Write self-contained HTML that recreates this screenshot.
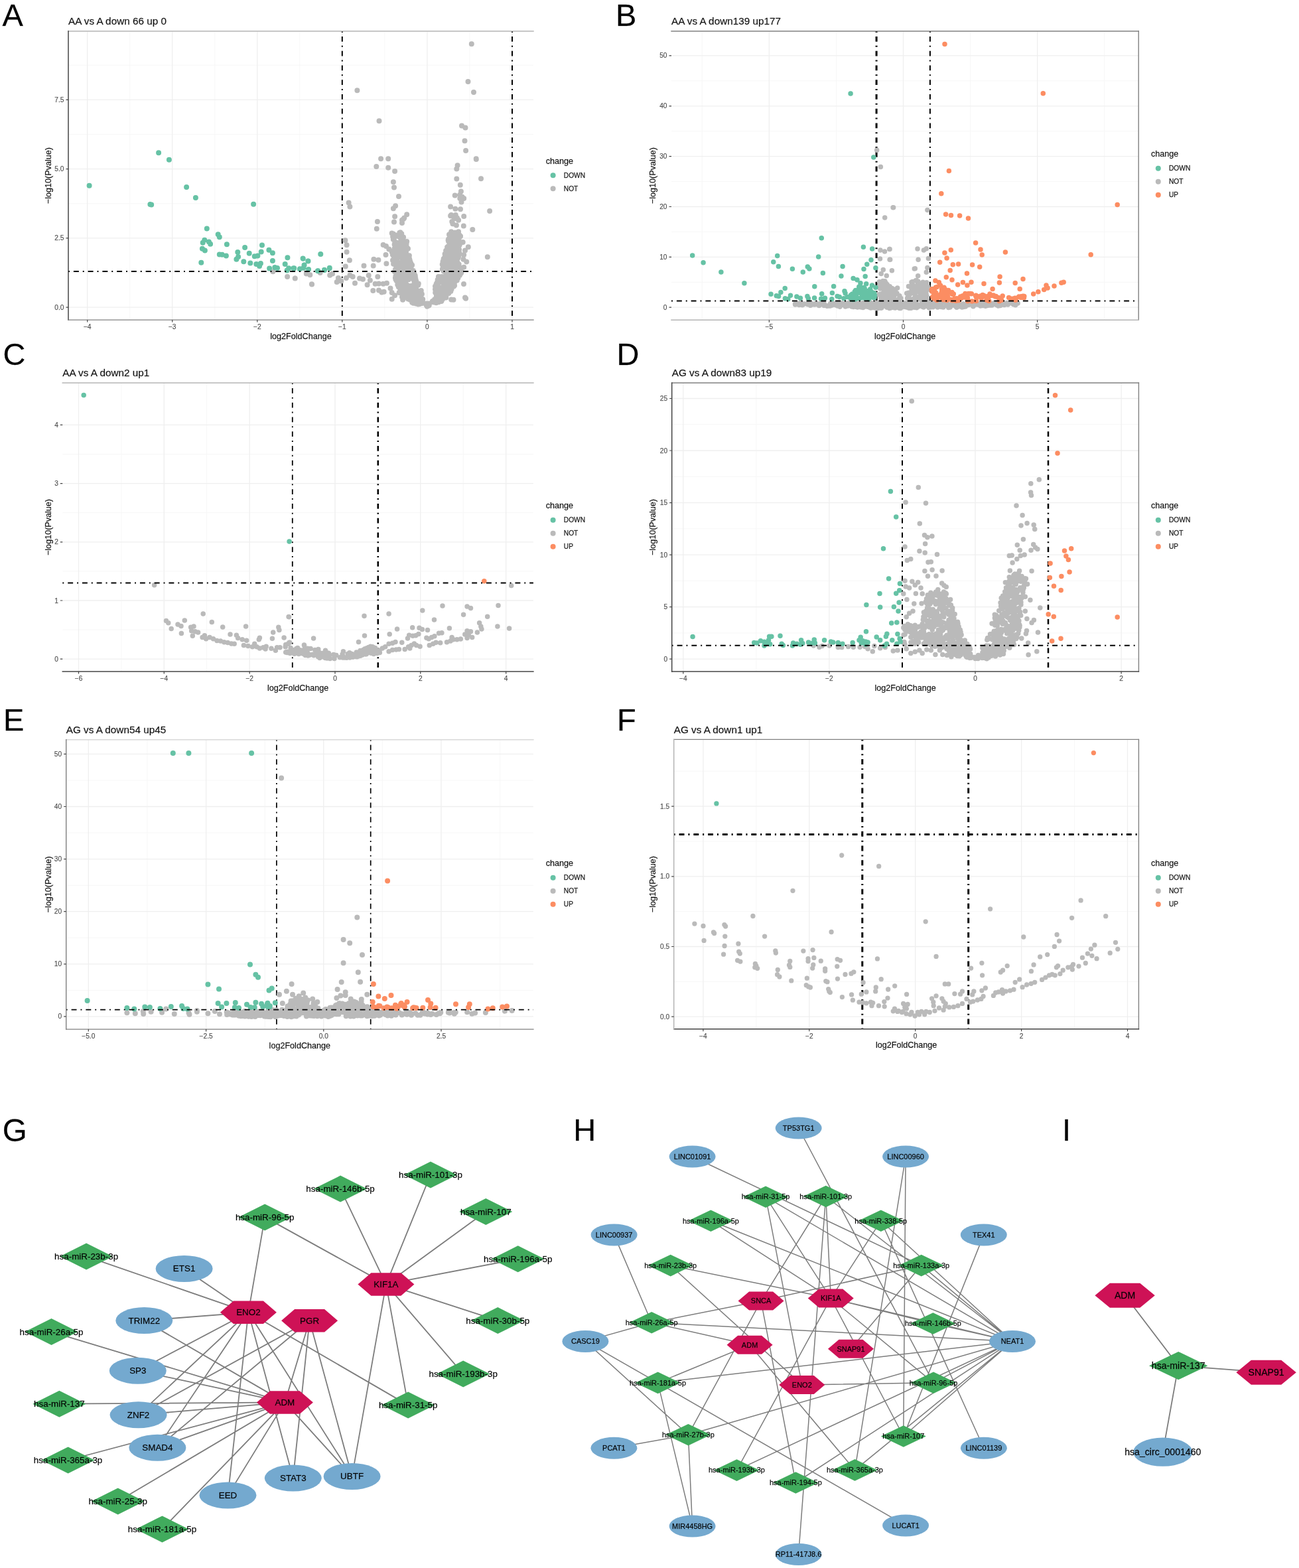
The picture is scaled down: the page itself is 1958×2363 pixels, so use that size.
<!DOCTYPE html>
<html lang="en"><head><meta charset="utf-8"><title>Figure</title>
<style>html,body{margin:0;padding:0;background:#fff}body{width:1958px;height:2363px;overflow:hidden}svg{display:block}</style></head>
<body>
<svg width="1958" height="2363" viewBox="0 0 1958 2363" font-family="'Liberation Sans', Arial, sans-serif">
<style>text{stroke:#000;stroke-width:.3px;stroke-opacity:.55;paint-order:stroke fill}.tk text{stroke:#4d4d4d;stroke-width:.25px}</style>
<rect width="1958" height="2363" fill="#fff"/>
<g>
<text x="3.5" y="38.5" font-size="47" fill="#000">A</text>
<text x="103" y="36.7" font-size="15.3" fill="#111">AA vs A down 66 up 0</text>
<rect x="103" y="47" width="701" height="435.1" fill="#fff"/>
<path d="M195.7 47V482.1M323.8 47V482.1M451.8 47V482.1M579.9 47V482.1M707.9 47V482.1M103 411.1H804M103 306.8H804M103 202.5H804M103 98.2H804" stroke="#f6f6f6" stroke-width="0.9" fill="none"/>
<path d="M131.7 47V482.1M259.7 47V482.1M387.8 47V482.1M515.8 47V482.1M643.9 47V482.1M772 47V482.1M103 463.2H804M103 358.9H804M103 254.6H804M103 150.4H804" stroke="#efefef" stroke-width="1.3" fill="none"/>
<path d="M515.8 47V482.1" stroke="#000" stroke-width="2" stroke-dasharray="1.98 5.93 7.91 5.93" fill="none"/>
<path d="M772 47V482.1" stroke="#000" stroke-width="2" stroke-dasharray="1.98 5.93 7.91 5.93" fill="none"/>
<path d="M411.4 409.3h0M433.1 417h0M444.7 419.4h0M470.1 428.4h0M710.8 66.3h0M705.5 123.1h0M714 139h0M538.4 136.3h0M571.5 182.3h0M696 189.5h0M701.5 192.4h0M700.5 212.2h0M702.1 227h0M717.7 239.2h0M574.1 239.2h0M585.2 239.2h0M567.3 250.9h0M585.2 252.7h0M595.1 257.9h0M592.9 274.3h0M594 282.6h0M601 296.1h0M596.1 310.3h0M592.9 314.3h0M613.2 323.2h0M595.1 326.3h0M594 334.6h0M608.2 330h0M606 336.1h0M568.9 333.9h0M567.8 344.8h0M525.6 305.5h0M527.4 311.4h0M520.4 362.3h0M522.6 369.3h0M522.6 379.8h0M526.9 392.2h0M520.8 401.6h0M548.5 400.5h0M563.4 390.7h0M570.4 391.8h0M562.7 400.5h0M581.5 384.1h0M582.4 397.2h0M689.6 249.2h0M688.3 254.6h0M688.3 269.5h0M693.8 278.7h0M694.9 288.5h0M685.7 294.6h0M693.3 293.5h0M699.2 299h0M695.5 304.4h0M679.1 311.6h0M686.3 314.7h0M694 315.3h0M680.2 324.1h0M686.8 324.1h0M699.2 326h0M689 328.4h0M682.4 337.2h0M687.9 339.4h0M698.8 340.5h0M712.3 346.1h0M725 269.3h0M738.1 318h0M734.8 387.2h0M697.7 365.1h0M705.8 372.3h0M701 377.6h0M699.2 384.1h0M698.4 390.7h0M703.2 394.6h0M699.2 402.7h0M699 428h0M683.5 451.8h0M702.1 449.7h0M701 448.6h0M680.2 451.4h0M717.8 240h0M444.8 419.5h0M469.9 428.3h0M461.8 412.5h0M467.3 414.3h0M482.6 411h0M497.2 414.7h0M501.1 412.5h0M509.9 419.1h0M507.7 425h0M514.3 423.4h0M521.9 419.1h0M527.4 414.7h0M531.7 416.9h0M535 426.7h0M542 419.5h0M547 420.8h0M555.7 415.1h0M557.9 422.4h0M553.6 429.3h0M569.3 416.9h0M565.6 427.8h0M571 427.4h0M577.6 427.8h0M583 426.7h0M562.3 438.1h0M571 437.6h0M575.4 440.5h0M578.7 439.8h0M588.5 434.4h0M590.7 440.9h0M595.1 445.3h0M590.7 450.7h0M601.6 440.9h0M606 447.5h0M607.1 451.8h0M577.6 368.9h0M582 371h0M586.3 375.4h0M590.7 379.8h0M592.9 352.5h0M590.7 351.4h0M680.2 349.2h0M691.1 349.2h0M677 353.6h0M684.6 329.5h0M681.3 333.9h0M691.1 331.7h0M679.1 325.2h0M693.3 299h0M696.6 296.8h0M606 331.7h0M609.3 328.4h0M615.9 399.4h0M624 436.8h0M613.3 429.4h0M601.5 396.4h0M612.9 404.5h0M602.3 375.3h0M601.6 400.5h0M605.3 352.2h0M596.5 386.5h0M627.6 428.3h0M606 414.7h0M635.9 443.2h0M616.4 414.8h0M599.2 410.4h0M626.6 424.2h0M609.6 398.3h0M616.6 435.7h0M617.2 393.2h0M610.6 368.6h0M620.2 400.5h0M604.2 410.3h0M630.8 440.3h0M619.3 396.8h0M616.4 403.3h0M608.7 388h0M618.1 418.6h0M599.4 414.3h0M634.8 437.9h0M631.5 439.9h0M595.9 418.8h0M608.1 357.5h0M598.5 408h0M599 379.9h0M606.9 402.1h0M612 370.6h0M621.6 440h0M601.8 421.4h0M610.7 413.4h0M606.9 419.4h0M593.3 382.8h0M603.3 350.8h0M632.7 456h0M635.2 457.2h0M609.8 388.1h0M600.9 424.2h0M612.7 371.3h0M605.6 405h0M600.6 386h0M607.8 373.3h0M625.2 442.2h0M602.4 429.9h0M594.6 368.6h0M607.9 382h0M597.3 410.6h0M595.7 354.2h0M631 441.2h0M607.9 417.7h0M594.5 379.3h0M604.6 436.6h0M596.2 368.3h0M602.7 431.9h0M603.4 402.5h0M621.1 399.5h0M606.5 356.8h0M637.5 456.8h0M601.4 418h0M625.9 422.8h0M603.7 409.6h0M606.2 377h0M594.5 380.8h0M624 420.8h0M606.1 385.9h0M607.6 409.9h0M620.2 415.6h0M602.9 352.1h0M602.9 357.8h0M605.3 437.2h0M615.8 445h0M598.2 405.2h0M630.4 458.5h0M595.8 406.6h0M631.9 449.9h0M612.6 367.3h0M627.3 423.5h0M603.3 357h0M618.7 409.6h0M610.7 387.2h0M603.6 352.5h0M608.6 365.1h0M596.7 378.4h0M611 417.4h0M602.3 350.7h0M617.6 405.1h0M625.8 430.5h0M602.6 404.5h0M615 374.7h0M611.6 411.7h0M637.2 451.1h0M604.5 421.1h0M592.7 357.7h0M616.7 446.6h0M626.1 443.5h0M609.5 427.2h0M634.6 448.7h0M599.4 377.5h0M601.5 412.7h0M625.5 428.9h0M608.3 406.7h0M630.4 442.7h0M624.4 427.1h0M598.8 385.7h0M596.4 382.4h0M603.1 432.5h0M622.7 416.6h0M605 409.7h0M604.4 414.5h0M603.2 425.2h0M631.2 439h0M615.7 444.2h0M610.1 381.2h0M629.6 457.2h0M597.3 405h0M616.3 389.2h0M613.1 399.4h0M606 393.9h0M615.7 421.3h0M609.8 372.3h0M621.2 447.1h0M606.1 368.6h0M622.3 408.4h0M610.4 396.8h0M611.2 444.8h0M620.5 430.8h0M615.8 432.1h0M623.4 421.4h0M622.8 419.7h0M608.3 379h0M626.9 446.2h0M616.7 432h0M612.1 389h0M625.9 416.6h0M601.1 372.8h0M617.3 390.5h0M616.7 431.1h0M599 421.9h0M627.2 439.7h0M604.2 417.1h0M602.3 411.7h0M626.8 442.9h0M612.6 433.8h0M608.9 432.7h0M602.7 429.1h0M595.8 393.6h0M599.9 356h0M621.2 447.9h0M601.5 353.7h0M626.7 439.7h0M608 442.3h0M595.2 393.9h0M615.9 391.5h0M599 375.4h0M621 450.2h0M631.5 444.4h0M606.8 392.1h0M620.3 451.2h0M611 446.9h0M597.8 423.2h0M593.2 391.7h0M597 400.9h0M633.7 449.8h0M592.1 356.6h0M604.4 362.8h0M623.2 432h0M625.8 443.1h0M622.9 456.8h0M621.6 411.6h0M608.5 395.4h0M612.2 422.9h0M627.2 431.8h0M627.6 432.8h0M634.5 443.8h0M593 359.9h0M613.2 364h0M610.7 427.9h0M592 392.2h0M632 444.2h0M606 396.7h0M603 411.3h0M607.3 387.2h0M630.8 455.3h0M618 448.8h0M598.4 390.7h0M608.1 413.3h0M605.7 388.7h0M607.1 432.4h0M616.2 407.9h0M607.1 386h0M615.1 450.5h0M638.3 456.8h0M632.5 451.9h0M597.2 407.6h0M630.8 427.4h0M611.1 401.1h0M598.9 366.2h0M611.5 430.1h0M592.8 360.8h0M595.8 378.7h0M623 407.9h0M594.3 357.9h0M621.2 445.3h0M627.8 439.6h0M600.7 432.2h0M615.5 394.4h0M600.1 382.9h0M596.5 383.2h0M619.9 410.7h0M617.5 409.6h0M632.6 455h0M611.4 419.3h0M606.2 383.1h0M616.5 414.5h0M598.7 420.1h0M636.8 451.9h0M614.3 437.6h0M609.5 432.5h0M615.2 387h0M608.6 395.6h0M616.8 431.4h0M595 364.1h0M610.9 429.6h0M618.7 408.8h0M618.9 396.1h0M604 380.6h0M615.1 437.3h0M610.4 423.6h0M605.5 405.9h0M600.7 407.3h0M611.8 447.8h0M615.7 448.6h0M638.2 456.7h0M604.1 409.5h0M613 433.7h0M604.5 427.7h0M611.6 364.2h0M600.4 411.7h0M621.2 455.7h0M617.8 417h0M598 395.5h0M604.7 426.5h0M604.1 373.5h0M609.3 401.7h0M607.8 416.7h0M593.3 385.8h0M626 421h0M632.3 448.2h0M606.6 404.3h0M607.3 364h0M597.5 378.1h0M594.8 409.3h0M600.6 412.4h0M606.1 417.7h0M594.6 374.6h0M607.9 416.1h0M607.3 365.2h0M603.2 434.8h0M595.6 384.8h0M604.2 355.3h0M616.9 385.3h0M625.4 418.3h0M617.6 412.1h0M618 393.3h0M601.4 397.8h0M604.3 408.3h0M614.7 394.3h0M595.6 391h0M624.1 409.9h0M618.4 442.9h0M627.7 425.4h0M591.8 383.8h0M633.8 443.4h0M610 398.3h0M596.4 416.1h0M604.2 423.4h0M609.9 411.8h0M611.4 416.7h0M596 365.2h0M616.6 389.1h0M631.8 440.3h0M602.7 411.9h0M608.8 367.3h0M630.5 450.9h0M608.2 422.4h0M593.1 397.8h0M609.7 382.3h0M626.4 419.9h0M625.1 448.2h0M599.2 420.7h0M615.5 387.5h0M627 457.4h0M610.1 441.8h0M599.3 428.9h0M595.4 386.9h0M614.6 404.2h0M630.3 429.6h0M600.3 398.4h0M618.3 412.9h0M598 391.3h0M633 454.3h0M623.1 431h0M631.9 458.2h0M608 376.2h0M630.4 453h0M620.5 406.4h0M612.4 437.5h0M626.5 426h0M603.1 435.8h0M596.4 420.9h0M610.3 411.6h0M606.4 380.5h0M611.8 415.5h0M606.7 408.8h0M613.5 405.2h0M611.9 368.3h0M610.7 392.8h0M608.9 366.6h0M619.6 443h0M597.6 378h0M608.3 380.6h0M597 377.7h0M612.5 446h0M620.1 410.9h0M610.5 371.4h0M625.6 415h0M596.9 409.2h0M594.1 376.5h0M610 381.4h0M608.7 442.3h0M601.9 428.1h0M608.3 408.9h0M601.1 401h0M605.3 439.2h0M620.9 417.7h0M606.6 439.4h0M601 405.8h0M626.9 440.2h0M603.4 350.3h0M596.5 372.1h0M615.2 417.5h0M604.1 420.3h0M625 451.5h0M616.3 444.2h0M612.1 379.8h0M597 411.6h0M618.1 451.8h0M612.1 398.6h0M600.1 406.1h0M614 441.8h0M599.4 366.1h0M631.5 442.7h0M612.3 414.8h0M680.4 380.8h0M677.2 415.1h0M676 363.6h0M668.6 390.6h0M694.1 407.9h0M666.1 447.7h0M673.3 409.7h0M680.6 366.3h0M684.5 427.5h0M670.1 406.3h0M672.1 440.8h0M664.9 446.7h0M691.7 398.3h0M683 401.3h0M681.8 364.5h0M692.1 376.2h0M692.3 381h0M672.2 404.8h0M679.5 412.9h0M678.1 354.1h0M692.1 367.4h0M684.1 352.2h0M679.6 376.8h0M658.6 445.9h0M689.4 373.6h0M657.8 446.4h0M668.3 427.7h0M651.5 454.9h0M687.4 363.5h0M677.7 430.6h0M685.1 430.3h0M679.9 381.7h0M690.5 360.1h0M676.2 390.5h0M677.3 393.6h0M678.1 437.2h0M682.3 374.9h0M668.3 405.8h0M683 373.1h0M673.1 398.7h0M662.7 419.1h0M657.9 449.4h0M668.8 404.1h0M668 405.7h0M686.9 387.5h0M677.5 378.7h0M688.8 422.6h0M667.7 401.2h0M665.8 452.7h0M666.7 398.6h0M684.5 390.8h0M679.9 434.6h0M683 402.6h0M686.7 376.3h0M673.3 400.2h0M668.5 423.3h0M692.6 412.7h0M687.7 356.5h0M679.3 360.2h0M680.4 423.6h0M669 405.6h0M682.6 375h0M691.4 398.3h0M682 391.8h0M675.6 362.1h0M671.2 391.9h0M682.1 399.7h0M684.1 421h0M667.3 422h0M679.4 439h0M683.3 415h0M685.2 368.4h0M684 412.7h0M656.9 437.7h0M675.3 399h0M657.5 456.3h0M671.3 441.5h0M679.8 432h0M671.3 422.9h0M656 431.5h0M686 391.9h0M680.6 435.8h0M689.9 360.9h0M673.9 389.3h0M669.2 445.3h0M662.6 419.9h0M671.2 407.2h0M692.4 354.3h0M688 380.4h0M679.2 436.7h0M679.6 390.5h0M688.8 356.1h0M678.6 390.3h0M673.5 443h0M686.7 417.6h0M661.1 455.3h0M669.2 418.8h0M686.5 372.2h0M687.2 418h0M667.1 439.9h0M664.3 446.2h0M693 403.1h0M684 431.6h0M661.8 416.9h0M680.4 387.6h0M670.9 447.9h0M656.6 455.6h0M684.9 395.5h0M674.1 372.6h0M688.4 390.2h0M661.5 418.6h0M693 356.4h0M677.5 384.1h0M665.8 433.5h0M689.3 394.8h0M685.7 360.7h0M673.2 442.4h0M664.1 433.6h0M677.5 390.7h0M670.8 416.5h0M663 441.5h0M676.8 412.9h0M669.8 392.7h0M653.8 453h0M680.4 356h0M657.3 450.8h0M687.9 405.4h0M666.1 416.9h0M682.7 403.6h0M692.5 364.2h0M678.3 369.6h0M668.6 394.5h0M667 436.9h0M687.3 410h0M658.7 426.1h0M681.8 421h0M676 419.4h0M678.2 430.6h0M682 400h0M678.7 407.9h0M656.6 455.1h0M657.7 440h0M681.9 377.3h0M691.8 410.7h0M682.9 397.7h0M679.9 359.5h0M682 376.7h0M692.2 370.1h0M666.8 405.7h0M692.9 368.5h0M685.4 425h0M686.1 396.8h0M675.6 381h0M689.7 371h0M677.7 421h0M688.6 379.8h0M683.1 384.8h0M669.1 393.6h0M676 360.6h0M679.2 402.3h0M690.4 413.3h0M682 405.6h0M670.8 389h0M673.6 439.2h0M651.9 453.9h0M680.6 351.7h0M682.2 391.5h0M672.5 405.1h0M685.9 412.1h0M682.1 429.7h0M673.9 416.1h0M662.7 421.2h0M692.8 415h0M665.3 454.1h0M678.7 437.8h0M691.5 403.9h0M664.2 441.5h0M689.8 354.3h0M674 415.4h0M668.9 393.6h0M686.3 364.1h0M680.5 379.3h0M659.6 435.8h0M692.1 358.2h0M672.1 377.7h0M679.5 351.5h0M672.9 406h0M667.3 450.4h0M670.1 388.2h0M695.3 411h0M672.8 395.9h0M686.7 419.7h0M675.5 374.2h0M669.2 398.7h0M658.3 431.6h0M662.3 441.8h0M695.3 408.3h0M675.4 424.2h0M659.6 427.1h0M665.4 442.6h0M670.2 421.5h0M674.8 406.8h0M684.6 393.6h0M672.3 448.4h0M684.2 420.4h0M676.9 417.1h0M677.8 433.3h0M681.7 387.1h0M686.7 385.5h0M679.4 392.3h0M687.2 392.1h0M692.3 410.9h0M667.4 419.6h0M680.4 422h0M677.2 429.5h0M656.2 441h0M676.9 391.6h0M682.6 351.4h0M690.5 418.7h0M675.7 371h0M677.6 364.5h0M662.4 440.7h0M675.4 428.7h0M672.2 411.2h0M659.3 442.4h0M659.4 438.5h0M682.9 371.3h0M676.3 372.8h0M689.9 412.8h0M667.4 399.7h0M677.7 436.2h0M666.9 441.4h0M687.2 405.9h0M686.7 378.3h0M686 363.1h0M678.7 437.7h0M655.1 451.2h0M677.6 385.8h0M678.9 428h0M664.8 442.5h0M693.2 411h0M685.7 371.8h0M667.7 420.8h0M688.4 383.8h0M685.1 371.1h0M691.9 355.4h0M678 426.9h0M673.9 381.4h0M669.8 392h0M675.1 431.1h0M654.3 455.5h0M668.2 424.5h0M688.5 367.3h0M687.4 380.9h0M667.9 400.9h0M687 379.3h0M675.8 405.9h0M675.7 382.4h0M688.7 403h0M670.6 418.7h0M672.4 447.8h0M687.5 361.7h0M672.8 430h0M680.9 370.7h0M686.1 350.4h0M674.3 380.2h0M693.4 411.3h0M688 403h0M677.9 391.4h0M685.9 367.8h0M666.3 423.6h0M662 420.8h0M656 436h0M668.1 440.9h0M684.7 400.1h0M677.6 413.1h0M657.6 428.1h0M680.4 420.9h0M682.7 407.8h0M680.9 365.7h0M694.4 412.3h0M679.2 377.8h0M686.2 374.1h0M687.7 410.3h0M679.6 379h0M670.8 420.9h0M677.4 386.1h0M679.2 356.9h0M673.8 419.6h0M677.3 400.5h0M665.9 420.2h0M670.6 382.8h0M661.9 436h0M657.6 441.7h0M676.6 417.3h0M684 365.3h0M688.2 354.7h0M682.6 405h0M673.9 376.2h0M685.3 380.1h0M683.6 355.4h0M670.4 419.4h0M676.3 441.9h0M691.4 377.5h0M668.2 442.3h0M660.9 416.9h0M690.4 388.7h0M676.3 371.2h0M689.6 396.2h0M671.4 420.7h0M663.2 438.7h0M670 394.7h0M683.1 421.9h0M687.2 392.2h0M673.4 391.7h0M661.1 425.7h0M683.4 423h0M660 433.1h0M668.8 408.8h0M689.3 357.3h0M673.2 401.8h0M673.4 420h0M673.5 439.5h0M688.3 365.1h0M663.9 435.3h0M677.5 415.2h0M678.3 391h0M678.4 353.2h0M685.4 401.2h0M677.2 426.3h0M676.7 393.2h0M687.3 384.7h0M682.9 423.4h0M670.3 435.5h0M667.5 394.4h0M661.3 432.4h0M679.2 370.3h0M694.1 356.1h0M691.4 386.1h0M662.2 453.2h0M687.9 374.9h0M671.6 408.6h0M685.5 375.7h0M675.3 405h0M676.4 409.2h0M668.7 389.9h0M666.8 433.3h0M681 354.7h0M667.8 397.3h0M689 376.1h0M673.6 417.8h0M691.1 368.6h0M688.4 375.5h0M685.7 391h0M659.6 421.7h0M687.2 376.3h0M660.5 444.8h0M656.5 435.5h0M675.5 432.3h0M668.2 392.8h0M642.9 460.3h0M643.8 460.6h0M645.5 457.7h0M643.1 458.6h0M646.8 459.9h0M645.5 458.1h0M644.8 461.3h0M645.8 457.6h0M646.3 460.5h0M643.3 457.5h0M643.9 461.7h0M647.1 457.8h0" stroke="#bababa" stroke-width="8.0" stroke-linecap="round" fill="none"/>
<path d="M239.1 230.2h0M254.9 240.7h0M134.6 279.8h0M281.1 281.9h0M294.9 298h0M228.2 308.6h0M226.4 308.1h0M382.1 307.8h0M311.8 344.6h0M328.7 353.3h0M330.8 357.2h0M308.3 361.7h0M305.7 365.7h0M314.9 364.4h0M317.1 367.8h0M341.9 368.3h0M395 369.4h0M304.9 374.7h0M308.9 377.6h0M369.1 373.1h0M405.4 376.8h0M410.9 381.3h0M358.3 380h0M375.7 381.8h0M393.7 379.4h0M383.7 386.3h0M388.4 385.5h0M330.8 383.4h0M334.8 383.7h0M340.9 385.5h0M359.1 387.1h0M356.4 390.8h0M433.4 388.2h0M456.6 389.5h0M483.3 383.1h0M464.3 393.5h0M410.9 392.9h0M367.3 394.3h0M377.3 396.4h0M386.3 398h0M392.9 396.9h0M391.1 400.9h0M303.3 395.8h0M429.7 398h0M458.5 399.5h0M406.1 404.6h0M414.3 403h0M418 404h0M435.2 404.3h0M432.6 407.5h0M442.4 404.3h0M451.9 405.6h0M465.1 406.1h0M479.4 408.3h0M488.9 406.7h0M496.8 404.3h0M483.2 383h0M456.8 389.8h0M464.5 393.5h0M458.6 399.4h0M443.3 404.2h0M452 405.3h0M457.5 403.8h0M465.1 406h0M478.9 408.2h0M489.1 407.1h0M496.8 403.8h0" stroke="#66c2a5" stroke-width="8.0" stroke-linecap="round" fill="none"/>
<path d="M103 409H804" stroke="#000" stroke-width="2" stroke-dasharray="1.98 5.93 7.91 5.93" fill="none"/>
<path d="M103 47H804" stroke="#b4b4b4" stroke-width="1.5" stroke-linecap="square" fill="none"/>
<path d="M103 47V482.1" stroke="#444" stroke-width="1.5" stroke-linecap="square" fill="none"/>
<path d="M103 482.1H804" stroke="#808080" stroke-width="1.4" stroke-linecap="square" fill="none"/>
<path d="M131.7 482.1v3.5M259.7 482.1v3.5M387.8 482.1v3.5M515.8 482.1v3.5M643.9 482.1v3.5M772 482.1v3.5M103 463.2h-3.5M103 358.9h-3.5M103 254.6h-3.5M103 150.4h-3.5" stroke="#444" stroke-width="1.2" fill="none"/>
<g class="tk" font-size="10.2" fill="#4d4d4d">
<text x="131.7" y="496.3" text-anchor="middle">−4</text>
<text x="259.7" y="496.3" text-anchor="middle">−3</text>
<text x="387.8" y="496.3" text-anchor="middle">−2</text>
<text x="515.8" y="496.3" text-anchor="middle">−1</text>
<text x="643.9" y="496.3" text-anchor="middle">0</text>
<text x="772" y="496.3" text-anchor="middle">1</text>
<text x="96.5" y="466.7" text-anchor="end">0.0</text>
<text x="96.5" y="362.4" text-anchor="end">2.5</text>
<text x="96.5" y="258.1" text-anchor="end">5.0</text>
<text x="96.5" y="153.9" text-anchor="end">7.5</text>
</g>
<text x="453.5" y="510.70000000000005" font-size="12.6" text-anchor="middle" fill="#111">log2FoldChange</text>
<text transform="translate(77 264.6) rotate(-90)" font-size="12.6" text-anchor="middle" fill="#111">−log10(Pvalue)</text>
<text x="822.8" y="246.6" font-size="12.6" fill="#111">change</text>
<circle cx="833.5999999999999" cy="264.3" r="4" fill="#66c2a5"/>
<text x="849.8" y="267.7" font-size="10.2" fill="#111">DOWN</text>
<circle cx="833.5999999999999" cy="284.3" r="4" fill="#bababa"/>
<text x="849.8" y="287.7" font-size="10.2" fill="#111">NOT</text>
</g>
<g>
<text x="928" y="38.5" font-size="47" fill="#000">B</text>
<text x="1012" y="36.7" font-size="15.3" fill="#111">AA vs A down139 up177</text>
<rect x="1012" y="47" width="704.2" height="435.2" fill="#fff"/>
<path d="M1058.3 47V482.2M1260.5 47V482.2M1462.5 47V482.2M1664.7 47V482.2M1012 425.3H1716.2M1012 349.4H1716.2M1012 273.5H1716.2M1012 197.7H1716.2M1012 121.8H1716.2" stroke="#f6f6f6" stroke-width="0.9" fill="none"/>
<path d="M1159.4 47V482.2M1361.5 47V482.2M1563.6 47V482.2M1012 463.2H1716.2M1012 387.3H1716.2M1012 311.5H1716.2M1012 235.6H1716.2M1012 159.8H1716.2M1012 83.9H1716.2" stroke="#efefef" stroke-width="1.3" fill="none"/>
<path d="M1321.1 47V482.2" stroke="#000" stroke-width="3" stroke-dasharray="1.98 5.93 7.91 5.93" fill="none"/>
<path d="M1401.9 47V482.2" stroke="#000" stroke-width="2" stroke-dasharray="1.98 5.93 7.91 5.93" fill="none"/>
<path d="M1321.7 226.3h0M1327.4 251.6h0M1346.1 312.7h0M1333.7 328h0M1326.9 376.9h0M1333.5 379.1h0M1340.7 375.4h0M1326.5 390h0M1341.1 391.3h0M1331.3 406.4h0M1344.4 407.7h0M1378.3 404.9h0M1328.2 412.5h0M1336.3 415.4h0M1352.7 433.9h0M1346.6 312.7h0M1397.9 316.4h0M1341.1 375.4h0M1383 375h0M1392.4 376.9h0M1396.3 374.7h0M1341.7 391.3h0M1384.1 391.3h0M1399.4 389.6h0M1344.4 407.7h0M1379.3 404.7h0M1397.9 403.4h0M1396.3 410.3h0M1383.7 415.8h0M1322.4 463.3h0M1231.5 458.1h0M1224.5 458.1h0M1331.5 457.3h0M1294.5 458h0M1251.4 459.8h0M1350.4 461.3h0M1200.3 458.5h0M1345.3 462.9h0M1348.3 462.4h0M1370.8 462.8h0M1286.4 462.5h0M1300.5 459.8h0M1264.1 459.8h0M1254.9 457.2h0M1347.1 462.8h0M1377.4 461.9h0M1298.7 462.4h0M1278.5 457.7h0M1234.6 460.5h0M1243.8 460h0M1308.1 459.5h0M1221.5 460.3h0M1240.6 458.2h0M1233.1 459.2h0M1371.6 459.4h0M1328.7 463.9h0M1205.5 457.4h0M1344.6 463.2h0M1314.2 457.5h0M1359.2 462.9h0M1266 462.2h0M1307.7 462.2h0M1303.6 461.1h0M1259.9 458.7h0M1218.1 458.1h0M1299.1 460.7h0M1260.2 457h0M1219.8 458.7h0M1246.7 461.2h0M1198.7 459h0M1291.9 460.1h0M1319.7 458.7h0M1363.7 462.3h0M1352.5 458.4h0M1304.9 459.2h0M1242.2 458.6h0M1234.8 459.1h0M1204.6 459.5h0M1307 456.2h0M1338.8 457.8h0M1285.3 460.8h0M1258.3 458.6h0M1277 457.3h0M1355.1 457.1h0M1347.8 458h0M1253 459.4h0M1203.7 457.3h0M1263.5 459.9h0M1357.5 464.4h0M1297.1 457.2h0M1198.5 458.3h0M1355.9 457.4h0M1285 459.3h0M1319.2 464h0M1278 461h0M1310.8 463.2h0M1361.3 457.2h0M1345.8 460.6h0M1252 456.9h0M1207.1 456.5h0M1330.2 457.1h0M1328.2 463.4h0M1379.9 462.9h0M1275 461.4h0M1349.6 462.1h0M1217.6 458.8h0M1379.3 460.1h0M1279.7 456.2h0M1203 458.4h0M1353.3 459.7h0M1378.8 462.5h0M1285.9 458.4h0M1295.5 457.8h0M1266.1 460.2h0M1230.2 457.1h0M1305 458.8h0M1359.1 460.3h0M1292.7 463.1h0M1316 459.8h0M1372.6 456.4h0M1354.9 457.4h0M1350.8 457.5h0M1366.5 458.3h0M1286.4 461.3h0M1242.1 460.6h0M1336.2 459h0M1237.8 456.6h0M1325.4 459.8h0M1364.3 462.4h0M1367.6 463h0M1349.2 461.9h0M1329.1 461.7h0M1305.4 458.3h0M1306.4 456.7h0M1314.7 461.3h0M1290.9 462.6h0M1357.4 459.4h0M1346.2 460.4h0M1301.9 459.6h0M1367.8 459.9h0M1371.3 459h0M1320.2 463.8h0M1322.3 459.3h0M1340.7 464.4h0M1279.3 459.6h0M1300.5 462.4h0M1212.2 458h0M1224.2 458.9h0M1251.4 457.9h0M1375.3 456.9h0M1218.2 457.3h0M1209.8 459.4h0M1236.4 457.5h0M1206.6 458.1h0M1300.8 463.5h0M1317.9 462.1h0M1325.4 462.8h0M1353.2 457.5h0M1292.3 460.5h0M1340.2 457.7h0M1326.4 459.7h0M1274.5 458.2h0M1249 461h0M1373.7 458.3h0M1345 458h0M1253.3 457.1h0M1278.2 457.1h0M1326.1 461h0M1274.3 462.1h0M1240.2 459h0M1263.9 456.2h0M1359.4 456.9h0M1346.9 459.9h0M1274.5 457.4h0M1242.1 457.5h0M1362.8 456.4h0M1333.8 457.1h0M1333 460.9h0M1312.5 464h0M1343.3 461.2h0M1338 460.3h0M1298.2 463h0M1310.6 459.3h0M1259.7 459.8h0M1250.1 460.8h0M1306 460.8h0M1340.4 459.9h0M1295.5 462.4h0M1329.4 462.4h0M1360.1 460.8h0M1298.9 457.8h0M1241.6 459.8h0M1205.4 459.1h0M1332.6 460h0M1352.4 457.5h0M1338.3 459.8h0M1301.1 456.7h0M1331.7 460.9h0M1274.8 456.5h0M1325.1 459.9h0M1329.7 461.3h0M1304.7 459.9h0M1368.3 460.5h0M1290.4 456.7h0M1343.1 461.5h0M1241.3 457.2h0M1356.4 460.1h0M1329 456.4h0M1300.7 458.7h0M1324.4 464.2h0M1319.1 460.3h0M1307.7 458.3h0M1282.9 457.2h0M1329.1 456.8h0M1293.7 457.7h0M1300.3 456.7h0M1328.8 463.6h0M1313.7 457.7h0M1223.1 458.2h0M1293.1 462.7h0M1327.3 461h0M1291.1 457.6h0M1310.4 458.2h0M1254 460h0M1334.6 457.1h0M1278.3 458.2h0M1320 463h0M1282.3 458h0M1247.9 460.7h0M1344.8 461.2h0M1303.4 459.7h0M1241.6 459.9h0M1323.8 458.5h0M1278.3 456.8h0M1360.1 457.1h0M1264.2 461.3h0M1318.8 463.7h0M1358 460.1h0M1328 460.1h0M1328.3 464.2h0M1337 463.3h0M1357 461.1h0M1371 457.5h0M1302.3 456.8h0M1304 461.9h0M1273.8 457.8h0M1267.7 456.6h0M1283.8 461.9h0M1275.4 456.8h0M1309.3 458h0M1320.8 456.3h0M1370.2 456.4h0M1227.9 458.9h0M1343 462.4h0M1333.2 459.8h0M1363.9 457.3h0M1372.9 456.6h0M1338 461.8h0M1291.6 457.9h0M1207.8 458h0M1349.1 463.2h0M1312.7 456.3h0M1332.2 457.8h0M1370.4 464.3h0M1241.7 457.1h0M1357.2 459.9h0M1251.4 460.9h0M1209.4 459.7h0M1316.1 463.4h0M1216.9 457.9h0M1258.5 457.6h0M1270.4 457.8h0M1291.5 457.2h0M1321.9 464.2h0M1282.8 459.7h0M1270.3 459.2h0M1273.1 457.7h0M1285.1 456.8h0M1310.2 461.4h0M1262.5 461h0M1273.3 460.5h0M1369.9 457.1h0M1366.7 463h0M1354.6 457.1h0M1328.7 457.2h0M1352.3 459.5h0M1286.8 460.5h0M1354.9 459.9h0M1277.7 459.2h0M1328.2 444h0M1347.8 452h0M1334.1 428.8h0M1350.8 442.5h0M1335.2 443.3h0M1338.6 446.5h0M1328.6 427.7h0M1333.7 447.4h0M1344.2 442.6h0M1330.3 442.2h0M1328.7 431.6h0M1327.3 427.1h0M1346.2 449.7h0M1345.5 441.6h0M1330.8 423.4h0M1331.3 435.5h0M1332.2 447.2h0M1341.6 443.4h0M1343.6 435.6h0M1341.8 435h0M1355.5 452h0M1326.7 425h0M1349.7 439.5h0M1325 444h0M1336.8 439.4h0M1335.2 426.6h0M1347 436.1h0M1333.5 433.3h0M1325.6 430.7h0M1334.5 451.9h0M1337.2 428.7h0M1325.6 425.1h0M1331.5 428h0M1333.3 440.6h0M1344.5 440.3h0M1342.6 448.7h0M1337.5 433.2h0M1333.2 451.8h0M1341.2 431.7h0M1333.8 423.7h0M1331.5 443.6h0M1329.4 428.9h0M1340.4 438.6h0M1338 446.7h0M1333.6 432.6h0M1332.3 425.1h0M1347.6 442.4h0M1337 451.8h0M1348 439h0M1326 433.9h0M1333.9 436.1h0M1357.9 449.4h0M1326.5 443.2h0M1327.8 449.5h0M1339.7 453.4h0M1355.8 448.2h0M1329.2 433h0M1340.5 446.7h0M1342.2 438.1h0M1335 453.1h0M1333.3 443.2h0M1356.8 449.1h0M1338.6 435.2h0M1336.8 451.9h0M1325.4 424.8h0M1349.8 452.9h0M1343.2 448.4h0M1340.3 450.7h0M1326.8 435h0M1345.1 447.1h0M1391.1 425.3h0M1396 442.5h0M1395.2 452.9h0M1374.3 431.2h0M1390.2 429.4h0M1375.1 427.7h0M1395.2 448.8h0M1393.2 427.5h0M1397.5 436.9h0M1374 435.1h0M1380.4 422.8h0M1385.3 432h0M1385.5 450.6h0M1388.1 433.4h0M1395.4 452.8h0M1382.8 451.1h0M1372 450.9h0M1389.6 443.7h0M1375.9 436.4h0M1382.1 447.7h0M1385 433.3h0M1383.2 426h0M1398.3 431.8h0M1374.2 430.4h0M1394.1 430.6h0M1396.8 431.2h0M1381.2 422.6h0M1396.9 446.3h0M1382.3 424h0M1382.9 432.5h0M1394.6 450.6h0M1391.3 429.6h0M1367.6 449.5h0M1383.1 435.9h0M1368.3 447.8h0M1385.5 435.3h0M1392.5 439.6h0M1389.6 428.5h0M1377.5 441.4h0M1379.1 431.6h0M1387.1 443.3h0M1386.4 430.4h0M1394 446.4h0M1396.5 449.4h0M1366.7 442.1h0M1378 432.9h0M1383.7 424.9h0M1374.7 452.5h0M1377.4 450.1h0M1389.4 430.5h0M1377 440h0M1390 431.3h0M1395.3 444h0M1369.9 447.5h0M1385.7 431.1h0M1369.5 431.4h0M1391.2 438.1h0M1382.6 449.9h0M1379.5 446h0M1371.5 441.7h0M1394.6 441.7h0M1385.8 438.2h0M1391.6 432.3h0M1374.1 438.4h0M1383.8 424h0M1384.2 435.5h0M1371.5 443.4h0M1392.6 431.3h0M1395.5 452.5h0M1388.6 433.5h0M1375.4 424.4h0M1375.4 452.9h0M1368.3 450.2h0M1389.8 445.9h0M1369.6 441.3h0M1373.2 442.3h0M1393.1 443.8h0M1384.3 449.2h0M1374 425.3h0M1380.4 433.9h0M1395.9 432.4h0M1385.5 436.6h0M1382.4 435.7h0M1382.1 439.7h0M1380.8 434h0M1397.5 452.2h0M1374.6 451.2h0M1396.6 425.7h0M1388.9 452.7h0M1386.9 435.2h0M1347.1 441.6h0M1348.2 440.8h0M1348 445.5h0M1345.1 445h0M1340.2 437.7h0M1355.5 452h0M1345 450.6h0M1355.9 445.7h0M1340.5 441.1h0M1344.4 437.9h0M1345.1 448.3h0M1346.8 440.3h0M1352.6 451.8h0M1344.6 434.5h0M1346 441.2h0M1341.3 446.4h0M1352 442h0M1340.4 434.2h0M1344.6 440h0M1347.3 442.9h0M1442 463.3h0M1527.7 458.7h0M1469.3 457.2h0M1345.3 459.6h0M1485.9 458.4h0M1438 459h0M1352.2 463.3h0M1511.1 457.5h0M1477.9 461.1h0M1526.7 458h0M1464.9 458.9h0M1356 464.4h0M1367.7 463.3h0M1343.5 459.5h0M1350.1 462.8h0M1413.3 463h0M1509.6 458.3h0M1443 459.3h0M1392.2 463.1h0M1377.7 461.5h0M1448.6 461h0M1365.3 462h0M1519.1 459h0M1453 458.6h0M1341.9 462.8h0M1408 460.3h0M1393.3 461.7h0M1482.5 458.9h0M1517.9 456.4h0M1450.3 462.2h0M1418.8 462.6h0M1416.5 457.9h0M1389.1 457.5h0M1361.6 458.1h0M1504.6 460.9h0M1498.5 456.6h0M1521 457h0M1468.5 459.7h0M1354.7 457h0M1464.4 458.3h0M1444 458.5h0M1371.9 458.8h0M1481.7 460.5h0M1416.8 460.5h0M1448.3 460.7h0M1486.9 458.2h0M1402.2 457.9h0M1411.2 456.5h0M1485.5 461.2h0M1404.3 461.3h0M1459.8 459.4h0M1399.3 459.3h0M1455.6 460.7h0M1442.3 457.9h0M1452.5 462.4h0M1489.5 460.1h0M1427.1 460.6h0M1444.8 460.4h0M1342.4 458.5h0M1431.4 462.8h0M1381.3 458.5h0M1441.2 462.3h0M1345.4 460.3h0M1534.1 457.1h0M1345.1 460.9h0M1488.4 458.1h0M1495.2 459.9h0M1351.4 460.9h0M1376.8 460.9h0M1392.7 459.2h0M1530.6 459.7h0M1341.5 462.8h0M1406.3 462.8h0M1502.3 456.5h0M1482.8 458.7h0M1402.9 459.1h0M1445.2 458.3h0M1436.6 458.7h0M1364.4 458.4h0M1473.1 458.9h0M1379.2 459.4h0M1493.9 457.5h0M1397.4 460h0M1443.2 459.6h0M1442.3 462.8h0M1370.1 461.1h0M1372.1 460.9h0M1402 463.2h0M1419.6 461.6h0M1373 462.4h0M1492.1 459.9h0M1402.9 462.8h0M1396.4 458.3h0M1389 457.9h0M1341.4 457.3h0M1436.3 460h0M1513.9 459.5h0M1373.3 464.3h0M1354.2 459.2h0M1489.3 459h0M1400.3 463.7h0M1368.1 457.1h0M1495.1 458.3h0M1381.7 463.8h0M1504 460h0M1392.8 456.9h0M1379.8 459h0M1346.9 461.2h0M1351.7 462.1h0M1436.2 459.9h0M1390.7 458.9h0M1487 458.1h0M1380.7 459.4h0M1385 461.7h0M1414.2 460.2h0M1378.6 462.5h0M1434.6 460.1h0M1466.3 457.4h0M1384.5 459.7h0M1475.4 458.3h0M1507.7 460.5h0M1432.5 459.8h0M1527.5 457.8h0M1345.9 460.3h0M1378.9 458.4h0M1347 457.3h0M1426.2 457h0M1397.9 461.6h0M1390.8 458.9h0M1414 458.5h0M1450.1 463h0M1346.1 460.9h0M1477.6 458.6h0M1361 459.5h0M1433.6 459.1h0M1488.3 460.5h0M1531.3 456.3h0M1497.9 457.2h0M1441.4 457.5h0M1414.7 461.5h0M1527.4 456.6h0M1416.6 457.2h0M1485.2 457.5h0M1378.5 463.3h0M1349.2 463.9h0M1360.8 457h0M1433 458.9h0M1465.9 458.9h0M1404.6 456.4h0M1357.3 456.2h0M1444.9 459h0M1429.8 462.9h0M1510.2 457h0M1466.4 458.8h0M1455.3 462h0M1488.9 456.8h0M1403 456.5h0M1370.1 464.3h0M1451.8 458h0M1397.7 459.9h0M1356.7 463.3h0M1414.5 456.7h0M1440.6 459.8h0M1489.1 458.5h0M1386.6 460.6h0M1419.1 457.3h0M1432 463.1h0M1381.2 457.1h0M1380.1 460.8h0M1380.7 460h0M1378.9 457.3h0M1341.1 456.7h0M1391.1 462.4h0M1502.1 459.6h0M1349 461.1h0M1525.4 456.3h0M1403.3 461.4h0M1373.8 463.1h0M1454.5 462h0M1361.6 456.4h0M1366.9 460.6h0M1341.4 456.3h0M1414.8 461.9h0M1418 458.7h0M1379.6 462.4h0M1403.9 460.4h0M1391.1 462.6h0M1427.4 457h0M1360.6 460.6h0M1400.9 458.5h0M1481.4 458.5h0M1428.1 460.6h0M1341.6 463.2h0M1392.3 457.6h0M1440.6 458.1h0M1346.3 457.2h0M1347.9 459.3h0M1403.8 458h0M1374.2 463.6h0M1452.5 461.5h0M1341.9 464.3h0M1346.3 462.9h0M1467.8 459.8h0M1405.5 460.9h0M1351.1 457h0M1462.1 458.7h0M1453.4 459.6h0M1346.7 463.4h0M1376.5 459.1h0M1402.5 458.2h0M1429.7 463.4h0M1466.9 461.7h0M1478 458.1h0M1450.8 459.9h0M1512.1 458.9h0M1446.4 461.7h0M1486.1 457.4h0M1528.7 456.5h0M1483 458.9h0M1359.7 459.4h0M1362.3 458.1h0M1412.3 460.5h0M1457 459h0M1366.3 460.1h0M1421.8 463.1h0M1377.8 460.8h0M1354.4 461.3h0M1432.4 461.4h0M1444 459.2h0M1367.5 459h0" stroke="#bababa" stroke-width="7.5" stroke-linecap="round" fill="none"/>
<path d="M1282.1 140.9h0M1316.8 237.1h0M1043.7 385h0M1060.1 395.7h0M1086.9 409.9h0M1121.9 426.7h0M1171.7 385.4h0M1165.8 394.8h0M1173.4 401.4h0M1194.4 405.3h0M1210.3 409.9h0M1217.3 402h0M1219.9 404.9h0M1233.7 387h0M1238.3 358.8h0M1240.4 411.4h0M1270.1 401.6h0M1268 416h0M1301.4 372.3h0M1314.7 375h0M1313 391.8h0M1306.8 398.3h0M1302 405.5h0M1319.9 403.8h0M1304.2 416.5h0M1227.8 431.7h0M1256.6 431.5h0M1286.1 419.5h0M1292 421.7h0M1297 426.7h0M1305.7 427.8h0M1314.5 430h0M1294.8 432.2h0M1319.9 433.3h0M1183.2 434.6h0M1176.9 440.5h0M1162 443.3h0M1170.3 445.7h0M1173.6 446.4h0M1191.5 445.3h0M1183.4 449.7h0M1187.8 450.7h0M1200.9 447h0M1206.4 449.2h0M1216.9 446.4h0M1218.4 449.7h0M1227.6 449h0M1238.7 442.7h0M1237.6 450.3h0M1243.5 449.2h0M1254.4 441.4h0M1253.8 450.7h0M1262.1 446.4h0M1265.3 447.5h0M1273 438.7h0M1274.1 442h0M1271.9 449.7h0M1277.4 447.5h0M1298.7 443.2h0M1316.4 441.3h0M1300.8 443.7h0M1288.7 442.2h0M1305.4 447.8h0M1285.1 448.1h0M1306.3 444.3h0M1301.6 433.4h0M1298.3 448.7h0M1301.2 444.8h0M1300.5 445.2h0M1298.9 437.7h0M1313.3 446.1h0M1293.6 436.7h0M1310.5 440.1h0M1313.5 439.8h0M1317.7 448.8h0M1315.9 441.4h0M1284.5 444.6h0M1311 437.5h0M1317.9 447.1h0M1311.7 435.7h0M1302.7 441h0M1288.9 446.6h0M1286.6 444.8h0M1289.7 437.5h0M1318.2 448h0M1293.1 449.6h0M1289.6 439.9h0M1313.8 444.8h0M1285.5 451.6h0M1310.7 438.6h0M1285.1 443.6h0M1290.9 444h0M1295.7 441.1h0M1317.8 441.7h0M1303.3 449.2h0M1315.8 448.3h0M1309.5 450.7h0M1289.1 450.9h0M1314.9 444h0M1297.6 434.2h0M1283.2 451.1h0M1290.7 446h0M1291.4 448.4h0M1304.1 438h0M1288.3 446.3h0M1302.7 448.9h0M1304.8 437.7h0M1298.5 433.4h0M1288.3 439.4h0M1303.2 434.8h0M1295.3 449.7h0M1318.6 445.1h0M1307.7 443.7h0M1282.4 450.1h0M1282.5 444.7h0M1299.8 446.5h0M1284.6 442.9h0M1309.4 449.9h0" stroke="#66c2a5" stroke-width="7.5" stroke-linecap="round" fill="none"/>
<path d="M1424 66.6h0M1572.3 140.7h0M1430.4 257.5h0M1418.8 291.8h0M1684.2 308.6h0M1425.6 323h0M1433.5 324.5h0M1446.6 325h0M1459.5 329.1h0M1470.6 366h0M1478 376.1h0M1480.2 384.1h0M1515.4 380h0M1644.2 383.7h0M1433.3 376.7h0M1423.9 380.9h0M1427.1 388.9h0M1416.7 395.3h0M1436.3 398.8h0M1444.6 397.9h0M1465.6 399h0M1476.7 402.3h0M1432.2 407.5h0M1457.5 412.1h0M1507.1 417.1h0M1426.3 417.8h0M1435 421.7h0M1542 420.4h0M1506.4 426.1h0M1530.2 426.5h0M1483 427.6h0M1464 425.2h0M1451.4 425.6h0M1443.7 428.9h0M1457.9 430h0M1603.2 425.2h0M1599.9 426.3h0M1589 431.1h0M1577 430h0M1579.1 433.9h0M1573.7 436.6h0M1564.9 439.8h0M1557.7 443.1h0M1537.2 435.5h0M1496.1 435.5h0M1409.9 423h0M1415.3 425.6h0M1417.5 430h0M1423 433.3h0M1470.7 446.1h0M1404.9 439.2h0M1442.2 449.8h0M1482.6 446.2h0M1424 440.8h0M1426.4 452.2h0M1411.7 450h0M1413.9 446.8h0M1412 452.4h0M1419.3 440.4h0M1422.5 437.6h0M1427.6 450h0M1506.4 453.7h0M1541.9 446.2h0M1501.3 446.5h0M1419.5 435.7h0M1454.9 442.5h0M1407.3 450.1h0M1464.4 442.7h0M1434.9 440.5h0M1458.4 448.9h0M1417.9 443.5h0M1428.6 447h0M1408.6 436.8h0M1452.2 445.6h0M1410.7 441.2h0M1470.9 453.5h0M1471.6 453.4h0M1427.1 452.6h0M1509.6 452.3h0M1404.3 436.6h0M1409 445.1h0M1449.1 449.3h0M1435.9 442.9h0M1471.1 445.3h0M1440.6 453.2h0M1444.7 451.4h0M1442.8 453.1h0M1476.5 447h0M1500.3 447h0M1422 451.7h0M1465.1 454h0M1482.8 445.3h0M1486.9 452h0M1405.8 447.4h0M1531.6 449.5h0M1530.7 452.3h0M1479.3 449.3h0M1535.9 446.9h0M1480.2 445.2h0M1421 443.1h0M1449.3 446.8h0M1447.7 447h0M1511.2 446.1h0M1407.6 441.9h0M1431.9 440.6h0M1434.6 452.5h0M1474.5 447.1h0M1426.4 441.4h0M1489.4 450.6h0M1524.7 450.3h0M1435.6 443.2h0M1498.9 446.2h0M1435.4 443.3h0M1458.6 451.4h0M1421.2 445.7h0M1410.8 450.4h0M1527.3 450.1h0M1454.3 448h0M1526.2 450.4h0M1433.3 451.5h0M1406.8 437.5h0M1426.5 447.5h0M1429.5 437.6h0M1417.9 446.8h0M1478.2 445.9h0M1462.2 442.6h0M1539.1 446.7h0M1489.6 448.4h0M1412.2 432.6h0M1404.5 436.1h0M1419.4 446.8h0M1490.8 453.6h0M1539.7 448.3h0M1435.7 452.7h0M1489.5 453.3h0M1543.4 448.7h0M1445.7 452.6h0M1488.5 446.4h0M1405.1 435.6h0M1471.8 447.9h0M1520.6 448.5h0M1492 443.1h0M1458 445h0M1421.3 443.2h0M1538.5 448.2h0M1417.9 448h0M1481.1 444.6h0M1427.9 439.8h0M1450.5 446.1h0M1459.7 442.6h0M1438.9 449.8h0M1543.8 446.5h0M1427.7 440.7h0M1443.5 450.6h0M1493.9 445.6h0M1504.8 448.4h0M1437.3 442.9h0M1497.4 445.1h0M1529.7 449.3h0M1458.7 453.7h0M1410.5 432.9h0M1420.6 450.3h0M1488.7 452.8h0M1424.1 435.6h0" stroke="#fc8d62" stroke-width="7.5" stroke-linecap="round" fill="none"/>
<path d="M1012 453.5H1716.2" stroke="#000" stroke-width="2" stroke-dasharray="1.98 5.93 7.91 5.93" fill="none"/>
<path d="M1012 47H1716.2" stroke="#808080" stroke-width="1.4" stroke-linecap="square" fill="none"/>
<path d="M1716.2 47V482.2" stroke="#808080" stroke-width="1.4" stroke-linecap="square" fill="none"/>
<path d="M1012 482.2H1716.2" stroke="#b4b4b4" stroke-width="1.5" stroke-linecap="square" fill="none"/>
<path d="M1159.4 482.2v3.5M1361.5 482.2v3.5M1563.6 482.2v3.5M1012 463.2h-3.5M1012 387.3h-3.5M1012 311.5h-3.5M1012 235.6h-3.5M1012 159.8h-3.5M1012 83.9h-3.5" stroke="#444" stroke-width="1.2" fill="none"/>
<g class="tk" font-size="10.2" fill="#4d4d4d">
<text x="1159.4" y="496.4" text-anchor="middle">−5</text>
<text x="1361.5" y="496.4" text-anchor="middle">0</text>
<text x="1563.6" y="496.4" text-anchor="middle">5</text>
<text x="1005.5" y="466.7" text-anchor="end">0</text>
<text x="1005.5" y="390.8" text-anchor="end">10</text>
<text x="1005.5" y="315" text-anchor="end">20</text>
<text x="1005.5" y="239.1" text-anchor="end">30</text>
<text x="1005.5" y="163.3" text-anchor="end">40</text>
<text x="1005.5" y="87.4" text-anchor="end">50</text>
</g>
<text x="1364.1" y="510.8" font-size="12.6" text-anchor="middle" fill="#111">log2FoldChange</text>
<text transform="translate(988.4 264.6) rotate(-90)" font-size="12.6" text-anchor="middle" fill="#111">−log10(Pvalue)</text>
<text x="1735" y="236" font-size="12.6" fill="#111">change</text>
<circle cx="1745.8" cy="253.7" r="4" fill="#66c2a5"/>
<text x="1762" y="257.1" font-size="10.2" fill="#111">DOWN</text>
<circle cx="1745.8" cy="273.7" r="4" fill="#bababa"/>
<text x="1762" y="277.1" font-size="10.2" fill="#111">NOT</text>
<circle cx="1745.8" cy="293.7" r="4" fill="#fc8d62"/>
<text x="1762" y="297.1" font-size="10.2" fill="#111">UP</text>
</g>
<g>
<text x="4.5" y="550" font-size="47" fill="#000">C</text>
<text x="94.3" y="566.7" font-size="15.3" fill="#111">AA vs A down2 up1</text>
<rect x="94.3" y="577" width="709.6" height="435.1" fill="#fff"/>
<path d="M182.9 577V1012.1M311.7 577V1012.1M440.6 577V1012.1M569.4 577V1012.1M698.3 577V1012.1M94.3 949.1H803.9M94.3 860.9H803.9M94.3 772.7H803.9M94.3 684.5H803.9" stroke="#f6f6f6" stroke-width="0.9" fill="none"/>
<path d="M118.5 577V1012.1M247.3 577V1012.1M376.2 577V1012.1M505 577V1012.1M633.8 577V1012.1M762.7 577V1012.1M94.3 993.2H803.9M94.3 905H803.9M94.3 816.8H803.9M94.3 728.6H803.9M94.3 640.4H803.9" stroke="#efefef" stroke-width="1.3" fill="none"/>
<path d="M440.8 577V1012.1" stroke="#000" stroke-width="1.8" stroke-dasharray="1.98 5.93 7.91 5.93" fill="none"/>
<path d="M569.8 577V1012.1" stroke="#000" stroke-width="2.6" stroke-dasharray="1.98 5.93 7.91 5.93" fill="none"/>
<path d="M232.6 881.7h0M306.2 925.1h0M319.3 937.6h0M335.7 945h0M370.6 944.1h0M435.1 929.5h0M278.3 935h0M250.5 935.4h0M253.8 938.7h0M258.2 947.4h0M268 940.9h0M273 943.5h0M273.4 954.4h0M287.6 945.2h0M292 944.1h0M288.7 950.7h0M294.2 951.8h0M298.6 952.9h0M290.3 958.3h0M305.1 960.5h0M308.4 957.7h0M310.6 962.7h0M316 960.5h0M321.5 962.7h0M327 965.5h0M332.4 966h0M337.9 967.7h0M343.3 968.6h0M348.8 969.9h0M353.2 970.3h0M347 956.1h0M356.4 957.2h0M358.6 961.6h0M365.2 963.8h0M371.7 965.3h0M367.4 972.5h0M373.9 973.6h0M380.5 974.7h0M383.7 970.3h0M387 974.7h0M391.4 976.9h0M396.8 975.8h0M401.2 974.3h0M400.1 978h0M408.9 977.3h0M415.4 980.2h0M417.6 975.8h0M422 975.8h0M391.4 961.2h0M390.3 963.8h0M410.4 962.3h0M411.7 952.9h0M419.8 945.2h0M420.9 949.6h0M428.1 961h0M436.1 968.2h0M430.7 971.4h0M430.7 983h0M437.2 984.5h0M443.8 985.2h0M448.2 979.1h0M450.3 985.6h0M458.6 972.5h0M459.1 979.1h0M463.4 983.4h0M467.8 986.7h0M770.7 882.6h0M435.5 929.7h0M549 928.2h0M586.1 925.1h0M636.8 919.9h0M667 913.1h0M704.1 914h0M709.5 916.4h0M751 912.5h0M698.6 926.2h0M654.5 934.1h0M734.7 929.3h0M749.9 943.9h0M767.6 947h0M722.6 938.7h0M724.8 944.1h0M725.9 947.9h0M719.4 952.9h0M677.4 946.8h0M621.7 945.7h0M632 946.3h0M636.4 948.5h0M644.5 949.6h0M598.6 948.1h0M587.2 955.7h0M549.5 957.9h0M472.6 962h0M540.5 967.5h0M665.9 953.7h0M661.5 954.2h0M704.1 950.7h0M709.5 951.8h0M700.8 956.1h0M706.3 957.2h0M711.7 960.5h0M704.1 961.6h0M694.3 963.1h0M688.8 963.8h0M681.1 960.5h0M683.3 963.8h0M679 966h0M673.5 967.7h0M654.9 958.8h0M650.6 960.5h0M642.9 961.2h0M646.2 962.7h0M630.9 955.5h0M626.6 957.7h0M622.2 958.3h0M616.7 957.2h0M614.5 962h0M663.7 968.8h0M657.1 968.2h0M652.8 970.3h0M647.3 972.5h0M633.1 974.3h0M627.6 972.5h0M624.4 969.9h0M620 972.5h0M615.6 974.7h0M610.2 978.6h0M617.8 976.9h0M605.8 968.2h0M596 967.5h0M591.6 969.3h0M586.1 970.3h0M580.7 974.7h0M576.3 976.9h0M572 980.2h0M572.4 983.4h0M586.1 981.7h0M591.6 979.5h0M597.1 979.1h0M601.4 978.6h0M436.6 968.2h0M434.4 970.3h0M458.4 972.1h0M448.6 976.5h0M479.8 978.6h0M490.5 980.2h0M517.4 981.7h0M495.5 984.5h0M563.2 975.8h0M553.6 977.3h0M563.4 978.8h0M548 983.3h0M526.8 983.8h0M486.2 984.6h0M557.4 978.6h0M481.2 983.3h0M478.7 980.7h0M474.8 979.5h0M503.9 986.9h0M558 981.2h0M547.5 981.9h0M495.1 985.8h0M459.1 977.7h0M463.7 977.3h0M482.1 984.3h0M546.4 982.1h0M565.4 976.6h0M502.7 986.5h0M525.1 987.1h0M438.1 976.4h0M556.4 980.4h0M516.1 986h0M468.2 977.5h0M504.7 988.3h0M563.3 979.8h0M446.7 977.5h0M496.2 987h0M476.4 979.9h0M493.2 984.1h0M542.1 984.8h0M430.2 974.8h0M495 984.2h0M476.1 980.2h0M506.8 987.4h0M524.2 985.5h0M481 984.4h0M490.7 987.2h0M442.8 979.7h0M542 983.7h0M551.3 986h0M562 980.6h0M550.1 977.7h0M534.7 989.2h0M447 982.9h0M568 981h0M460.8 985.8h0M524.8 987.3h0M563.3 985.4h0M552.5 983.2h0M537.3 983.1h0M552.2 985.7h0M547.8 979.3h0M519.3 991.1h0M555.6 975.4h0M433.5 982.3h0M482.4 988h0M537.4 989.8h0M431.1 982.7h0M465.1 987.7h0M554.9 979h0M561.5 974.7h0M473 987.8h0M565.5 980.3h0M436.8 982h0M464.3 987.9h0M543.3 988.3h0M441.8 983h0M516.9 989.1h0M522.6 991.3h0M526.9 987.4h0M476.5 986.5h0M561.9 979.6h0M457.7 985.6h0M560.5 982.7h0M432.6 983.5h0M493 992.1h0M456 981.3h0M533.6 989.1h0M543.1 985.8h0M471.3 986.2h0M439.4 983.7h0M435.2 983.3h0M559.1 984.3h0M504 992.4h0M564.5 981h0M559.1 984.2h0M552.3 977h0M568.4 984.6h0M537.6 988.7h0M552.4 980.4h0M441.5 981.4h0M454.7 984.3h0M543 980.4h0M558.7 984h0M554.1 983.8h0M536.9 988.9h0M532.1 988.5h0M567.8 980.8h0M531.8 990.3h0M481.4 990.6h0M538.4 989.8h0M558.7 976.9h0M460.2 987.5h0M476.5 986.7h0M530.5 985.5h0M563.4 980.7h0M534.7 986.4h0M442 983.2h0M516.6 991h0M486.2 989.1h0M463.6 985.6h0M479.6 989.7h0M434.8 983.4h0M558.4 974.3h0M452.7 980h0M484 990h0M540 989h0M481.9 991.4h0M457.5 983.3h0M550.4 979.9h0M512.4 990.7h0M524.2 989.4h0M551.9 977.9h0M568.2 979.7h0M453.2 981.2h0M565.7 983.4h0M445.4 983.7h0M484.3 988.4h0M446.1 980.1h0M527.3 990.8h0M565.8 978.1h0M527.3 991h0M448.7 980.1h0M559.8 980.2h0M517.7 990.4h0M453.1 980.1h0M558.8 979.3h0M484.9 989.8h0M490.1 991.6h0M497.5 992.4h0M453.1 984.5h0M563.9 982.2h0M452.1 981.5h0M446.1 984.2h0M546.1 986.9h0M466.6 987.2h0M565.5 984.1h0M564.3 977h0" stroke="#bababa" stroke-width="7.5" stroke-linecap="round" fill="none"/>
<path d="M126.2 595.5h0M436.1 815.9h0" stroke="#66c2a5" stroke-width="7.5" stroke-linecap="round" fill="none"/>
<path d="M729.8 875.8h0" stroke="#fc8d62" stroke-width="7.5" stroke-linecap="round" fill="none"/>
<path d="M94.3 878.5H803.9" stroke="#000" stroke-width="2" stroke-dasharray="1.98 5.93 7.91 5.93" fill="none"/>
<path d="M94.3 577H803.9" stroke="#b4b4b4" stroke-width="1.5" stroke-linecap="square" fill="none"/>
<path d="M94.3 1012.1H803.9" stroke="#444" stroke-width="1.5" stroke-linecap="square" fill="none"/>
<path d="M118.5 1012.1v3.5M247.3 1012.1v3.5M376.2 1012.1v3.5M505 1012.1v3.5M633.8 1012.1v3.5M762.7 1012.1v3.5M94.3 993.2h-3.5M94.3 905h-3.5M94.3 816.8h-3.5M94.3 728.6h-3.5M94.3 640.4h-3.5" stroke="#444" stroke-width="1.2" fill="none"/>
<g class="tk" font-size="10.2" fill="#4d4d4d">
<text x="118.5" y="1026.3" text-anchor="middle">−6</text>
<text x="247.3" y="1026.3" text-anchor="middle">−4</text>
<text x="376.2" y="1026.3" text-anchor="middle">−2</text>
<text x="505" y="1026.3" text-anchor="middle">0</text>
<text x="633.8" y="1026.3" text-anchor="middle">2</text>
<text x="762.7" y="1026.3" text-anchor="middle">4</text>
<text x="87.8" y="996.7" text-anchor="end">0</text>
<text x="87.8" y="908.5" text-anchor="end">1</text>
<text x="87.8" y="820.3" text-anchor="end">2</text>
<text x="87.8" y="732.1" text-anchor="end">3</text>
<text x="87.8" y="643.9" text-anchor="end">4</text>
</g>
<text x="449.1" y="1040.7" font-size="12.6" text-anchor="middle" fill="#111">log2FoldChange</text>
<text transform="translate(77 794.5) rotate(-90)" font-size="12.6" text-anchor="middle" fill="#111">−log10(Pvalue)</text>
<text x="822.8" y="766" font-size="12.6" fill="#111">change</text>
<circle cx="833.5999999999999" cy="783.7" r="4" fill="#66c2a5"/>
<text x="849.8" y="787.1" font-size="10.2" fill="#111">DOWN</text>
<circle cx="833.5999999999999" cy="803.7" r="4" fill="#bababa"/>
<text x="849.8" y="807.1" font-size="10.2" fill="#111">NOT</text>
<circle cx="833.5999999999999" cy="823.7" r="4" fill="#fc8d62"/>
<text x="849.8" y="827.1" font-size="10.2" fill="#111">UP</text>
</g>
<g>
<text x="929.5" y="550" font-size="47" fill="#000">D</text>
<text x="1012.7" y="566.7" font-size="15.3" fill="#111">AG vs A down83 up19</text>
<rect x="1012.7" y="577" width="703.7" height="435.1" fill="#fff"/>
<path d="M1139.8 577V1012.1M1360 577V1012.1M1580 577V1012.1M1012.7 953.9H1716.4M1012.7 875.4H1716.4M1012.7 796.8H1716.4M1012.7 718.3H1716.4M1012.7 639.7H1716.4" stroke="#f6f6f6" stroke-width="0.9" fill="none"/>
<path d="M1029.8 577V1012.1M1249.9 577V1012.1M1470 577V1012.1M1690.1 577V1012.1M1012.7 993.2H1716.4M1012.7 914.7H1716.4M1012.7 836.1H1716.4M1012.7 757.6H1716.4M1012.7 679H1716.4M1012.7 600.5H1716.4" stroke="#efefef" stroke-width="1.3" fill="none"/>
<path d="M1360 577V1012.1" stroke="#000" stroke-width="2" stroke-dasharray="1.98 5.93 7.91 5.93" fill="none"/>
<path d="M1580 577V1012.1" stroke="#000" stroke-width="2.5" stroke-dasharray="1.98 5.93 7.91 5.93" fill="none"/>
<path d="M1374.3 604.5h0M1384.3 734.4h0M1365.1 756.9h0M1395.5 758.3h0M1386.3 789h0M1566.3 722.7h0M1553.8 728.8h0M1553.6 741.9h0M1554.5 746.5h0M1532 762h0M1541.1 776.6h0M1548.1 788.6h0M1539 792.1h0M1558.2 791h0M1559.7 797.6h0M1226.2 973h0M1234.9 975.2h0M1239.3 973.4h0M1250.2 973h0M1263.3 975.6h0M1268.8 975.6h0M1278.6 974.5h0M1286.3 975.2h0M1296.1 975.2h0M1303.7 974.5h0M1308.1 977.8h0M1315.3 981.7h0M1317.9 973.4h0M1326.7 976.7h0M1334.3 975.6h0M1346.3 981.1h0M1352.9 980h0M1364 823.9h0M1367.3 844.6h0M1372.8 842.4h0M1385.9 830.4h0M1394.6 819.5h0M1393.5 806.4h0M1397.9 809.7h0M1404.9 807.9h0M1394.2 833h0M1412.5 835.4h0M1399 847.2h0M1403.3 846.8h0M1393.9 860.5h0M1405.1 858.8h0M1420.1 859.9h0M1398.5 868.2h0M1411 868h0M1364 875.2h0M1374.9 876.3h0M1383.7 877.4h0M1379.3 881.7h0M1370.6 886.1h0M1365.1 883.9h0M1388 886.1h0M1390.2 894.8h0M1380.4 894.4h0M1361.8 894.8h0M1366.9 903.6h0M1377.8 909.7h0M1389.1 909.5h0M1419.7 879.1h0M1423 882.2h0M1426.3 884.6h0M1376 921h0M1370.6 924.3h0M1366.2 929.8h0M1392.4 922.8h0M1391.3 934.1h0M1368.4 940.7h0M1361.8 946.1h0M1368.4 951.6h0M1377.1 947.2h0M1383.7 945.1h0M1374.9 956h0M1372.8 960.3h0M1364 956h0M1366.2 977.8h0M1372.8 984.4h0M1379.3 982.2h0M1385.9 980h0M1390.2 984.4h0M1396.8 978.9h0M1403.3 980h0M1409.9 986.6h0M1416.4 980h0M1420.8 986.6h0M1427.4 987.6h0M1433.9 989.8h0M1542.4 812.7h0M1533.3 821.2h0M1557.7 820.6h0M1560.6 824.9h0M1554 829.3h0M1563.9 827.6h0M1537.2 829.3h0M1544.2 835.9h0M1538.3 837.4h0M1521.3 837.4h0M1525.2 837h0M1532.8 842.4h0M1526.1 848.1h0M1555.1 860.5h0M1522.4 859.9h0M1536.6 860.3h0M1521.3 869.7h0M1515.4 877.8h0M1548.6 880.2h0M1546.4 871.9h0M1545.3 899.2h0M1552.9 904.2h0M1567.8 916h0M1545.3 921h0M1538.7 927.6h0M1547.9 932.4h0M1558.4 934.6h0M1555.1 938.5h0M1564.5 952.9h0M1547.5 950.5h0M1546.4 954.9h0M1539.8 962.1h0M1549.7 969.1h0M1562.8 981.7h0M1550.1 986.8h0M1417.7 959.6h0M1403.7 967.4h0M1396.4 965.6h0M1430 934.6h0M1400.8 922.2h0M1401.9 910.2h0M1434.3 945.2h0M1414.4 908.8h0M1402.6 971.6h0M1412.6 929.1h0M1439.6 975.8h0M1466.8 990.6h0M1410.2 905.9h0M1437.6 945h0M1435.7 960.8h0M1391.9 929.5h0M1423 972h0M1422.1 970.7h0M1412.7 962.8h0M1426.8 970.7h0M1407.7 926.6h0M1436.7 954.6h0M1395.6 964h0M1413.8 888.4h0M1416.1 917.1h0M1388 952.2h0M1401.5 907.7h0M1399.6 935.4h0M1443.8 942.7h0M1429 963.1h0M1423.6 963.1h0M1424.1 901.3h0M1394.4 970.1h0M1448.1 987h0M1443.4 948.6h0M1394 932.2h0M1395.8 927.5h0M1410.2 932.3h0M1445.2 944.5h0M1404.7 969.7h0M1447.3 974.8h0M1415.1 929.7h0M1413.6 961.1h0M1415.5 968.9h0M1437.7 938h0M1407.7 906.4h0M1409.4 937.4h0M1416.5 967.4h0M1433.8 929.9h0M1436 976.8h0M1430.5 921h0M1392 948h0M1399.9 926.7h0M1441.9 942.2h0M1431.6 910.7h0M1419.2 974.4h0M1404.6 961.9h0M1410.7 891.9h0M1419 944.2h0M1421.8 902.2h0M1421.7 938h0M1425 959.8h0M1461.6 974.8h0M1398.3 896.7h0M1432.9 983.5h0M1442.8 976h0M1422.7 929.7h0M1454.3 965.1h0M1431.8 970.3h0M1434.3 979.5h0M1416.6 911.4h0M1420.1 920.4h0M1407.2 933.8h0M1399.8 911.1h0M1398.3 967h0M1406.7 969.8h0M1421 895.5h0M1430.5 938.7h0M1425.4 893.8h0M1435.7 920.4h0M1444.8 951.8h0M1457.3 980.8h0M1431.4 949.9h0M1457.7 990.5h0M1406.1 895.1h0M1429.9 973.8h0M1422.9 906.3h0M1426.9 957.4h0M1399.9 901.6h0M1444.9 965.4h0M1434.8 923.8h0M1457.9 970.5h0M1453.8 977h0M1413.8 906.2h0M1409.4 974.2h0M1428.2 904.3h0M1436.1 985h0M1445.8 980.6h0M1398 915.1h0M1396.5 960.4h0M1426.1 923.6h0M1397.6 936.7h0M1439.6 957.3h0M1416.1 933.1h0M1412.8 972.4h0M1390.6 950.1h0M1434.5 959.3h0M1431.2 968.5h0M1422.8 904h0M1435.8 928.7h0M1442.9 988.6h0M1394.7 956.8h0M1435.7 916.2h0M1443.8 953.4h0M1418.2 936.5h0M1431.8 934.4h0M1442.3 969h0M1436.1 926.6h0M1441.7 938.7h0M1410 933.7h0M1432.6 903.4h0M1393.8 946.3h0M1394.3 968.5h0M1430.4 980.8h0M1403.1 937h0M1402.9 893.2h0M1435.8 979.6h0M1405.6 923.6h0M1414.1 927.9h0M1405.2 940h0M1414.5 949.3h0M1411.1 897h0M1438 932.1h0M1411.2 961.7h0M1405.7 902.2h0M1452.5 981.1h0M1445.7 978.6h0M1414.4 964.9h0M1412.7 968.1h0M1421.3 949.7h0M1438 974.2h0M1421.8 946.8h0M1410.3 930.3h0M1436.6 965.8h0M1403.3 896.1h0M1400.4 896.7h0M1425.7 916.4h0M1430.9 912.4h0M1405.6 906.9h0M1412 964.3h0M1439.2 925.6h0M1400.8 917.4h0M1385.5 954.5h0M1439.1 969.1h0M1421.7 964.7h0M1432 977.4h0M1431.3 958.5h0M1449.1 956.7h0M1455.6 988h0M1395.4 943.6h0M1406.3 918.5h0M1426 901.9h0M1437.4 952.3h0M1438.6 984h0M1413.9 941.2h0M1461.3 986.8h0M1443 961.8h0M1441.3 972.2h0M1395.3 907h0M1410.1 942h0M1405.7 941.6h0M1413.6 893.8h0M1391.8 944.3h0M1411 973.8h0M1462.5 978.3h0M1417.2 894.9h0M1446.9 962.1h0M1404.2 928.1h0M1416.9 961.7h0M1430.2 924.3h0M1394.1 934h0M1418.9 951.4h0M1451.4 984h0M1399.6 961.4h0M1469.3 990.4h0M1420.1 926.9h0M1412.1 921.5h0M1433 931.3h0M1435.9 932.8h0M1470 992.6h0M1404.7 973.5h0M1433.4 911.7h0M1401.9 928.4h0M1413.6 957.6h0M1411.8 935.2h0M1396.7 909h0M1407.9 944.4h0M1411.6 937.2h0M1431.4 953.9h0M1445.9 975.8h0M1426.4 939.5h0M1444.3 972h0M1397.4 906.9h0M1420.8 973.2h0M1462.4 985.2h0M1444 939.7h0M1387.6 961h0M1404.5 956.3h0M1392.4 952.1h0M1410.3 969.6h0M1397.9 940h0M1419.3 911.8h0M1412.3 907.4h0M1417.6 957.1h0M1400.9 941.2h0M1413.3 890.9h0M1390.3 960.8h0M1385 957.4h0M1410.4 910.6h0M1432.3 967.2h0M1448.1 952.6h0M1444 959.2h0M1425.5 907.2h0M1443.5 937.2h0M1420.1 968h0M1397.6 916.7h0M1429.8 946.5h0M1408.3 965.9h0M1396.5 970h0M1409.9 964.4h0M1390.2 940.4h0M1446.9 954.9h0M1400.8 944.9h0M1411 954.9h0M1448.8 972.7h0M1413.6 897.6h0M1396.5 902.5h0M1429.9 926h0M1406.6 956.5h0M1427.6 944.1h0M1420.6 907.1h0M1447.3 949.3h0M1437.4 949.8h0M1399.5 907.2h0M1426.4 894.9h0M1416.5 953.4h0M1459.3 990.4h0M1400.3 955.7h0M1426.1 908.7h0M1401.2 969h0M1425.5 946.3h0M1423.4 945.6h0M1417.8 917.5h0M1416.3 974.6h0M1422.6 892.1h0M1445.3 984.1h0M1434.2 977.5h0M1405.2 949.2h0M1418.6 939.9h0M1448.3 964.4h0M1422.9 895.1h0M1460.6 979h0M1406.6 963.4h0M1434.5 941h0M1455.4 972h0M1420.5 903.3h0M1416.2 900.6h0M1422.2 913.9h0M1458 976.6h0M1391.5 953.6h0M1419.5 975.9h0M1442.4 954h0M1394.7 959.2h0M1395.5 920.9h0M1432.9 937.5h0M1450.2 971.1h0M1412.4 924h0M1391.5 958.2h0M1404.4 903.8h0M1440 986.5h0M1493.1 980h0M1507.8 956.3h0M1534.1 930.4h0M1527.4 878.3h0M1542.4 888.1h0M1544.3 876.3h0M1493.6 983.7h0M1526.1 936.4h0M1513.8 962.9h0M1514.7 891.8h0M1506.3 968.5h0M1503.9 954h0M1507.4 987.1h0M1535.5 942.9h0M1510 928.5h0M1524.9 887.3h0M1534.6 928.7h0M1515.9 969.7h0M1519.1 879.7h0M1529.3 903.2h0M1514.4 925.1h0M1538.9 911.2h0M1532.4 866.2h0M1543.3 885.6h0M1524.8 950.4h0M1528.2 911.2h0M1504.3 980.5h0M1537.1 927.8h0M1527.2 871.4h0M1484.2 991.5h0M1494.3 955.6h0M1508.8 960.5h0M1518.4 930h0M1486.8 973.1h0M1494.6 988.3h0M1531.6 897h0M1506.1 932h0M1527.7 920.2h0M1489.5 982.9h0M1529.8 917h0M1530.7 941.5h0M1509.9 926.1h0M1500 974.8h0M1538.9 907.6h0M1515.8 965.1h0M1525.8 944.4h0M1515.7 949.2h0M1511.6 897.9h0M1533.9 898.8h0M1520.9 943.9h0M1521.8 976.3h0M1522.9 872.1h0M1516.9 907.4h0M1501.7 950.4h0M1541.3 871.7h0M1534.7 954.7h0M1500.8 962.3h0M1504 933.5h0M1518.3 919.5h0M1512.4 985.4h0M1525.6 896.8h0M1534.8 907.1h0M1521 908.8h0M1526 892.4h0M1509.4 953.4h0M1502.5 928.5h0M1504.2 971.1h0M1507.1 954.1h0M1489.8 973.2h0M1500.4 988.9h0M1518.2 910.2h0M1501.9 984.9h0M1525.5 948.2h0M1529.7 890.1h0M1534.2 872.7h0M1505.7 966h0M1529 913.3h0M1510.8 917.1h0M1515.3 938.4h0M1506.6 933.9h0M1529.6 893.6h0M1499.4 931.3h0M1512.4 967.6h0M1516.6 893.8h0M1490.9 962.7h0M1526.2 899.1h0M1522.7 935h0M1509.2 901.2h0M1516 897.6h0M1508.2 934.6h0M1532.5 918h0M1497.3 981.4h0M1505.7 971.5h0M1485.9 990.2h0M1531.2 929.8h0M1528.2 943.8h0M1497.3 958.3h0M1518.3 904.2h0M1501.9 952.3h0M1534.6 875.8h0M1503.3 942.8h0M1531.7 962.4h0M1526.8 950h0M1499.8 942.3h0M1509.8 908.7h0M1521.4 954.9h0M1516.5 902.9h0M1487.8 964.3h0M1523.7 890.8h0M1509.9 969.1h0M1515.2 899.7h0M1531.3 888.4h0M1518.6 917.3h0M1511.1 940.3h0M1523 874.6h0M1487 981.7h0M1517.3 971.2h0M1537.7 902.1h0M1529 936.1h0M1498.6 970.8h0M1517.6 966.7h0M1524.4 909.2h0M1534.8 948.4h0M1507.5 966.5h0M1536.9 871.8h0M1522.5 961.3h0M1483.2 985.5h0M1528.9 876.8h0M1526.9 922.7h0M1541.9 892.8h0M1521.7 879.7h0M1492.5 955.8h0M1535.2 864h0M1509.7 980.8h0M1502.6 979.2h0M1518.7 895.6h0M1530.2 946.3h0M1507 975.9h0M1525 912.5h0M1522.1 885.9h0M1525.8 919.2h0M1519 906.5h0M1485.7 976.3h0M1531.3 927.9h0M1521 949.9h0M1513.5 905.6h0M1530.5 900.9h0M1531.9 939h0M1500.3 934.9h0M1528.4 971.5h0M1485.6 978.4h0M1535.2 889.6h0M1525.1 906.8h0M1517 942.3h0M1515.7 974.5h0M1509.3 917.7h0M1531.1 921h0M1505.7 920.3h0M1508.1 908.2h0M1539.7 887.9h0M1528.9 875.1h0M1491.3 979.8h0M1496 963.9h0M1524.2 919.2h0M1525.1 965.8h0M1487.3 992.7h0M1527.5 968.4h0M1537.2 925.7h0M1537.1 942.8h0M1520.4 962.4h0M1539.2 899.5h0M1495.1 939.8h0M1537.6 922.3h0M1536.5 941.3h0M1509.2 916h0M1531.2 880.5h0M1488.6 961.6h0M1520.1 883.9h0M1532 947.1h0M1475.7 990.5h0M1517.4 928.8h0M1480.4 991.6h0M1534.9 918.8h0M1525.7 889.5h0M1524.6 952.5h0M1526.3 971.6h0M1540 901.2h0M1523.5 896h0M1529.8 865.1h0M1498.3 951.3h0M1532.2 908.6h0M1543.2 882.9h0M1511.7 910.8h0M1535.7 949.9h0M1514 923.5h0M1535.9 916.5h0M1533 945.8h0M1532.8 960.6h0M1537.3 907.5h0M1509.2 973.1h0M1517.9 924.3h0M1482.8 988.7h0M1521.1 971.8h0M1545 879.1h0M1514.6 915.6h0M1545.3 871.8h0M1525.2 941.6h0M1521.5 952h0M1532.3 906.4h0M1519.9 923.8h0M1527.8 905.8h0M1527.2 926.5h0M1544.3 880.9h0M1502.5 966.6h0M1544.9 874.1h0M1509.2 948.2h0M1518 891.7h0M1508.1 983.7h0M1499.3 926.3h0M1490.2 986.1h0M1524.4 971.7h0M1501 968.6h0M1489.1 980.2h0M1521.6 889.7h0M1517.8 954.8h0M1526.4 885.5h0M1532.8 902h0M1482 977.7h0M1504.3 948.8h0M1536.9 945.3h0M1516.5 885.8h0M1530.9 943.8h0M1493 987.5h0M1521.7 922.4h0M1522.8 948.3h0M1480.9 983.4h0M1513.2 980.5h0M1517.3 944h0M1530.5 957h0M1490.1 991h0M1507.6 930.8h0M1538.9 876.3h0M1504.1 978.3h0M1528.9 934.1h0M1502.5 970.2h0M1519 914.9h0M1512 935.8h0M1537.7 885.7h0M1523.2 897.8h0M1513.2 913.2h0M1519.2 901.1h0M1533.9 891.8h0M1512.4 963.8h0M1508.6 913.2h0M1502.8 957.9h0M1527.9 866.8h0M1509.2 964.3h0M1535.3 869.6h0M1524.7 930.6h0M1526.8 914.3h0M1531.7 868h0M1523.5 945.9h0M1521.8 970.1h0M1489.8 988.7h0M1514.2 949.9h0M1533 956.2h0M1520.3 886.8h0M1505.8 973.9h0M1515.7 947.4h0M1528.2 870h0M1511.3 929.2h0M1520.1 931.2h0M1491.9 976.3h0M1533.1 943.2h0M1516.2 913.5h0M1496.8 986.5h0M1528.6 958.8h0M1519.8 951.1h0M1517.5 926.4h0M1532.7 940.6h0M1530.1 895.9h0M1535.9 935.4h0M1528.9 899.2h0M1506.1 986.3h0M1511.1 978h0M1507 962.4h0M1529.5 929.1h0M1540.1 868.4h0M1513 978.4h0M1524.7 916.8h0M1508.4 937.6h0M1486.3 983.6h0M1521 876.1h0M1501.3 926.9h0M1502.9 936.3h0M1529 872.6h0M1512.4 899.2h0M1523.6 956.9h0M1526.3 961.2h0M1530.7 877.5h0M1521.7 893.3h0M1381.8 960h0M1384.6 967.9h0M1384.6 959.6h0M1379.4 970.2h0M1380.3 954.3h0M1372.4 950.1h0M1379.2 942.3h0M1383.1 963.2h0M1376.7 966.6h0M1385.6 944.3h0M1363.8 970.7h0M1371.8 947.2h0M1366.1 950.5h0M1370.3 949h0M1362.1 956.7h0M1372.5 952.7h0M1368.3 944.1h0M1363 967.4h0M1366.2 945.2h0M1363.9 949.1h0M1368.9 946.6h0M1384.7 954.7h0M1378.4 951.6h0M1380.7 964.7h0M1372.6 942.8h0M1372.9 967.9h0M1379.1 959.4h0M1363 943.4h0M1378 953.6h0M1379.6 948.7h0M1392.5 970.1h0M1461.7 991.5h0M1433.4 975.4h0M1444.2 976.6h0M1458.2 988.6h0M1421.8 974.8h0M1461.5 989.5h0M1450.8 979.4h0M1445.5 985.7h0M1447.5 981.4h0M1439.6 978.5h0M1460.2 985.1h0M1456.7 989.7h0M1459 981.6h0M1439.4 982.8h0M1429.6 979.5h0M1435 980h0M1445.3 974.7h0M1468.6 990.7h0M1446.1 988.8h0M1441.8 985.4h0M1459.1 978.9h0M1456.9 987.6h0M1462.5 988.2h0M1462.7 985.6h0M1443.3 981.4h0M1441.2 977.9h0M1457 985.9h0M1455.3 986.2h0M1452.7 979.2h0M1433.2 984.2h0M1463.8 991.3h0M1453.2 974.3h0M1443.9 974.3h0M1456.8 974.5h0M1452.9 981.7h0M1427.1 978h0M1482.3 980.9h0M1512.9 973.8h0M1502.4 981h0M1492.3 981.4h0M1487.5 978.8h0M1500.1 984.5h0M1500.6 978.7h0M1496.2 977.9h0M1474.2 992.5h0M1493.5 985.9h0M1494.3 976.9h0M1497.2 979.3h0M1510.5 975.5h0M1504.9 975.3h0M1495.3 980.6h0M1474.6 987.4h0M1506.4 981h0M1509.5 976.8h0M1490.5 978.4h0M1501.5 977.1h0M1480.9 976.5h0M1496.5 973.6h0M1488.9 985h0M1479.9 989.4h0M1494.5 974.6h0M1504.6 983h0M1503.4 976.3h0" stroke="#bababa" stroke-width="7.5" stroke-linecap="round" fill="none"/>
<path d="M1044.1 959.5h0M1331.5 826.7h0M1339.6 872.1h0M1326 894.4h0M1305.9 911.6h0M1326.7 915.1h0M1356.4 879.5h0M1355.7 889.8h0M1350.7 894.2h0M1355.1 907.9h0M1347.4 914.5h0M1354 921h0M1343.7 938.9h0M1351.8 938.1h0M1305.5 951.8h0M1336.9 955.3h0M1335.4 959.3h0M1352.9 955.5h0M1321.2 959.9h0M1326.7 964.7h0M1344.8 964.7h0M1356.1 962.5h0M1357.2 966.9h0M1336.5 970.2h0M1333.2 973h0M1351.8 970.2h0M1176 958.2h0M1159.6 959.3h0M1162.9 959.3h0M1158.5 964.7h0M1146.5 965.8h0M1152 967.3h0M1136.7 968.6h0M1141 969.1h0M1155.2 969.1h0M1160.7 970.8h0M1152 973h0M1178.2 970.2h0M1180.3 972.4h0M1195.6 969.1h0M1194.5 973h0M1201.1 970.2h0M1207.6 964.7h0M1206.6 971.3h0M1209.8 969.5h0M1218.6 968h0M1222.9 969.5h0M1227.3 964.1h0M1228.4 969.1h0M1242.6 964.7h0M1252.4 966.9h0M1255.7 968h0M1263.3 968.6h0M1269.9 970.2h0M1285.2 968.4h0M1297.2 960.3h0M1295 964.7h0M1300.5 965.8h0M1304.8 966.9h0M1308.1 968h0M1298.3 969.1h0M1304.8 971.3h0M1342.4 740.6h0M1350.7 779h0" stroke="#66c2a5" stroke-width="7.5" stroke-linecap="round" fill="none"/>
<path d="M1614.7 826.7h0M1604.5 830h0M1606.9 838h0M1610.4 843.5h0M1583.1 849h0M1612.1 862.1h0M1599.9 868.6h0M1582.4 870.4h0M1588.5 883.3h0M1599.2 889.6h0M1580.2 925.8h0M1588.3 929.3h0M1684.2 930h0M1599 962.3h0M1585.7 966h0M1590.5 595.8h0M1613.7 618h0M1594 682.9h0" stroke="#fc8d62" stroke-width="7.5" stroke-linecap="round" fill="none"/>
<path d="M1012.7 972.8H1716.4" stroke="#000" stroke-width="2" stroke-dasharray="1.98 5.93 7.91 5.93" fill="none"/>
<path d="M1012.7 577H1716.4" stroke="#808080" stroke-width="1.4" stroke-linecap="square" fill="none"/>
<path d="M1716.4 577V1012.1" stroke="#808080" stroke-width="1.4" stroke-linecap="square" fill="none"/>
<path d="M1012.7 1012.1H1716.4" stroke="#444" stroke-width="1.5" stroke-linecap="square" fill="none"/>
<path d="M1012.7 577V1012.1" stroke="#444" stroke-width="1.5" stroke-linecap="square" fill="none"/>
<path d="M1029.8 1012.1v3.5M1249.9 1012.1v3.5M1470 1012.1v3.5M1690.1 1012.1v3.5M1012.7 993.2h-3.5M1012.7 914.7h-3.5M1012.7 836.1h-3.5M1012.7 757.6h-3.5M1012.7 679h-3.5M1012.7 600.5h-3.5" stroke="#444" stroke-width="1.2" fill="none"/>
<g class="tk" font-size="10.2" fill="#4d4d4d">
<text x="1029.8" y="1026.3" text-anchor="middle">−4</text>
<text x="1249.9" y="1026.3" text-anchor="middle">−2</text>
<text x="1470" y="1026.3" text-anchor="middle">0</text>
<text x="1690.1" y="1026.3" text-anchor="middle">2</text>
<text x="1006.2" y="996.7" text-anchor="end">0</text>
<text x="1006.2" y="918.2" text-anchor="end">5</text>
<text x="1006.2" y="839.6" text-anchor="end">10</text>
<text x="1006.2" y="761.1" text-anchor="end">15</text>
<text x="1006.2" y="682.5" text-anchor="end">20</text>
<text x="1006.2" y="604" text-anchor="end">25</text>
</g>
<text x="1364.6" y="1040.7" font-size="12.6" text-anchor="middle" fill="#111">log2FoldChange</text>
<text transform="translate(988.4 794.5) rotate(-90)" font-size="12.6" text-anchor="middle" fill="#111">−log10(Pvalue)</text>
<text x="1735" y="766" font-size="12.6" fill="#111">change</text>
<circle cx="1745.8" cy="783.7" r="4" fill="#66c2a5"/>
<text x="1762" y="787.1" font-size="10.2" fill="#111">DOWN</text>
<circle cx="1745.8" cy="803.7" r="4" fill="#bababa"/>
<text x="1762" y="807.1" font-size="10.2" fill="#111">NOT</text>
<circle cx="1745.8" cy="823.7" r="4" fill="#fc8d62"/>
<text x="1762" y="827.1" font-size="10.2" fill="#111">UP</text>
</g>
<g>
<text x="5" y="1101" font-size="47" fill="#000">E</text>
<text x="99.7" y="1104.9" font-size="15.3" fill="#111">AG vs A down54 up45</text>
<rect x="99.7" y="1114.7" width="704.1999999999999" height="436.39999999999986" fill="#fff"/>
<path d="M221.9 1114.7V1551.1M399.2 1114.7V1551.1M576.4 1114.7V1551.1M753.7 1114.7V1551.1M99.7 1492.4H803.9M99.7 1413.2H803.9M99.7 1334.2H803.9M99.7 1255.1H803.9M99.7 1176H803.9" stroke="#f6f6f6" stroke-width="0.9" fill="none"/>
<path d="M133.3 1114.7V1551.1M310.6 1114.7V1551.1M487.8 1114.7V1551.1M665 1114.7V1551.1M99.7 1531.9H803.9M99.7 1452.8H803.9M99.7 1373.7H803.9M99.7 1294.6H803.9M99.7 1215.5H803.9M99.7 1136.4H803.9" stroke="#efefef" stroke-width="1.3" fill="none"/>
<path d="M416.9 1114.7V1551.1" stroke="#000" stroke-width="1.7" stroke-dasharray="1.98 5.93 7.91 5.93" fill="none"/>
<path d="M558.7 1114.7V1551.1" stroke="#000" stroke-width="1.7" stroke-dasharray="1.98 5.93 7.91 5.93" fill="none"/>
<path d="M424.1 1172.6h0M191.4 1526.2h0M203.8 1527.2h0M215.8 1524.1h0M216.2 1527.9h0M227.6 1524.8h0M244.1 1525.8h0M250.3 1520.6h0M262.8 1527.9h0M285.5 1528.7h0M296.9 1524.8h0M313.4 1527.2h0M323.8 1524.1h0M331 1528.3h0M296.9 1523.1h0M284.5 1526.6h0M538.3 1382.4h0M517.6 1416h0M527.2 1421.3h0M546 1438.9h0M517.6 1451.2h0M539.8 1465.2h0M514.7 1480h0M543.1 1479.7h0M439.6 1482.9h0M508.6 1491.1h0M431.9 1493.7h0M421 1498.8h0M441 1498.8h0M457.2 1496.4h0M450.7 1501.2h0M520.7 1495.2h0M513.4 1500.5h0M520.7 1500h0M507.4 1504.1h0M553.3 1498.8h0M544.8 1506h0M528.7 1505.6h0M425.8 1512.1h0M438.6 1508.4h0M445.9 1504.8h0M460.3 1503.6h0M464 1507.2h0M471.2 1505.6h0M478.4 1510.1h0M472.4 1512.1h0M457.9 1513.3h0M704.1 1525.3h0M711.4 1527.8h0M716.2 1526.6h0M731.9 1526.1h0M760.9 1523.7h0M771.7 1522.9h0M677.6 1526.6h0M684.8 1527.8h0M380.8 1525.7h0M402.8 1529.7h0M400.1 1527.1h0M420 1528.7h0M425.6 1529.5h0M432 1527.5h0M355.6 1525h0M419.1 1525.2h0M411.4 1529.1h0M432.2 1525.6h0M352.2 1529.5h0M415.2 1532.2h0M344.3 1526.5h0M407.5 1529h0M354.6 1529.5h0M383.8 1529.5h0M393.4 1527.2h0M389.5 1530.1h0M385.8 1530.2h0M398.6 1531.4h0M411.5 1526.5h0M353.8 1524.3h0M436 1530.3h0M350.5 1529.5h0M406.3 1527.4h0M433.1 1532.1h0M365.3 1527.5h0M384.2 1527.6h0M446.4 1526.1h0M361.9 1529.7h0M369.2 1531.5h0M374.7 1531.8h0M380.7 1531.4h0M422.2 1530.1h0M362.2 1525.2h0M341.7 1525.3h0M412.7 1524.3h0M355.6 1526.6h0M363.8 1529.6h0M405.2 1529.9h0M446.7 1531.5h0M430.1 1524h0M404.1 1531.9h0M409.6 1528.2h0M419.6 1530.5h0M346.3 1528.2h0M404.8 1526.8h0M439.5 1526.4h0M406.6 1530.9h0M435.4 1526.2h0M427.4 1529.7h0M358.7 1527.8h0M443.3 1530.9h0M360.1 1530.7h0M374.3 1526.9h0M363.1 1531.3h0M395.7 1525h0M368.5 1523.9h0M423.9 1530h0M397.1 1528.8h0M415.3 1528h0M359.5 1525.3h0M392.4 1530.3h0M428 1531.1h0M387.3 1529.9h0M350.1 1527.1h0M450 1529.5h0M422.3 1527h0M427.1 1524.5h0M379.7 1526.8h0M439.1 1532.2h0M433.2 1530.5h0M376.9 1525.2h0M438.8 1527.8h0M392.3 1525.9h0M368.7 1529.7h0M366.3 1531.1h0M372.4 1527.2h0M384.6 1531.9h0M348.1 1528.6h0M407.8 1532.3h0M389.4 1524.4h0M401.7 1527.7h0M386.4 1526.1h0M342.1 1529.1h0M407.3 1524.5h0M441.4 1531.6h0M434.9 1528.4h0M381.3 1527.8h0M415 1526.2h0M368.4 1526.1h0M393.3 1524.5h0M427.9 1526.1h0M445 1525.2h0M448.3 1525h0M377.5 1523.8h0M400.3 1531.8h0M379 1532h0M616 1525.8h0M464.1 1522.2h0M464.6 1524h0M636.3 1526.2h0M511 1523.2h0M508.6 1516h0M478.3 1531.3h0M450.2 1526.9h0M563.3 1526h0M647.2 1527.9h0M461.9 1531.4h0M571.4 1530.4h0M517.1 1516.2h0M478.3 1525h0M432.7 1520.7h0M533.1 1531.6h0M546.8 1515.3h0M487.5 1525h0M657.7 1529.1h0M425.1 1521.8h0M539.4 1523.1h0M524.1 1516h0M558.2 1526.9h0M528.5 1522.5h0M499.2 1523.9h0M420.8 1524.8h0M467.1 1530.6h0M469.8 1525.6h0M538.6 1528.1h0M524.2 1521.4h0M613.8 1525.7h0M518.1 1518.7h0M473.3 1531h0M530 1529.7h0M542.4 1516.1h0M477.8 1528.1h0M533.4 1520.5h0M416.8 1523.9h0M547.5 1529.5h0M574.5 1525.8h0M522.9 1523.8h0M553.3 1531.2h0M459.9 1526.6h0M492.7 1527.4h0M644.5 1526.4h0M431.4 1523.2h0M479.9 1524.3h0M543.3 1530.6h0M490.4 1530.5h0M633.5 1529.7h0M519.2 1524.6h0M497.4 1531.1h0M465.2 1528.7h0M535 1518h0M496.3 1529.7h0M513 1523.7h0M474.7 1526.5h0M617.6 1525.7h0M492.1 1529.4h0M675.8 1525.8h0M488.3 1523.1h0M526.1 1523.8h0M529.7 1516.1h0M538.8 1530.5h0M640 1527.4h0M471.8 1521.6h0M521.5 1524.8h0M457 1526.2h0M545 1516.7h0M620.2 1527.8h0M473.1 1529.4h0M533.9 1528.4h0M663.1 1527.2h0M539.2 1517h0M472.5 1525h0M467.8 1526.2h0M519.5 1523h0M521.9 1515.9h0M523.2 1530.6h0M571.3 1526.2h0M651.3 1527.7h0M503.2 1527.4h0M522.9 1527.3h0M560.2 1524.3h0M498.6 1525.8h0M518.6 1515.1h0M515.6 1523.4h0M439.8 1521.3h0M405.7 1522.9h0M590.7 1528h0M437 1525.6h0M605.1 1527.7h0M491.5 1525.8h0M429.9 1527.8h0M525.6 1519.4h0M548.4 1518.8h0M649.2 1528.9h0M586.4 1529h0M479.2 1528.6h0M557.8 1521.7h0M527.7 1526.9h0M536.3 1524.4h0M462.2 1528.3h0M499.8 1530.1h0M425.1 1526.7h0M543.3 1527.5h0M555.7 1520.5h0M537.7 1520.8h0M553.3 1521h0M582.1 1524.4h0M524.7 1523h0M589.9 1530.7h0M602 1526.3h0M544.8 1513.3h0M538 1525.3h0M502 1518.6h0M596.5 1529.6h0M496.7 1526.2h0M484.5 1531.4h0M533.4 1518.2h0M494.8 1532h0M561.1 1531.1h0M446.4 1523.2h0M481 1528.2h0M521.7 1531.2h0M548.9 1528.8h0M543.6 1514.7h0M455.3 1526.2h0M594.6 1528.8h0M410.9 1522.1h0M573.1 1529.8h0M511.4 1518.2h0M610.8 1527.5h0M428.9 1524.9h0M413.5 1528.3h0M442.7 1522.7h0M566 1528.2h0M470.6 1530.8h0M442 1521.3h0M664.3 1525.8h0M446.3 1520.9h0M501.3 1523.9h0M567.7 1523.7h0M686.8 1525.4h0M414.4 1524.3h0M545.7 1530.6h0M483.9 1528.4h0M586.7 1524.6h0M598.8 1526.7h0M584.3 1530.6h0M529.3 1523.8h0M486.5 1527.3h0M555.7 1530.8h0M507.3 1528.2h0M404.1 1522.9h0M533.4 1525.7h0M564.6 1530.8h0M489.3 1521.9h0M596.6 1527.2h0M521.7 1513.7h0M543.5 1520.2h0M508.7 1520.9h0M505.2 1519.9h0M594.4 1525.1h0M436.9 1523.4h0M400.8 1529.6h0M629.7 1529.8h0M540.5 1520h0M423.7 1524.4h0M605.8 1529.5h0M532.4 1516.4h0M499.4 1521.1h0M525.2 1525.6h0M509.8 1514.8h0M503.7 1525.6h0M620 1529.8h0M431.7 1529.3h0M568.4 1528.5h0M523.1 1518.7h0M508.5 1526.7h0M526.1 1517.5h0M644.4 1528.5h0M495.2 1528.4h0M581.3 1529.1h0M516.1 1518.1h0M499.6 1518.6h0M449.3 1522.3h0M433.4 1522.3h0M613.3 1528.8h0M576.7 1527.6h0M531.7 1531h0M565.6 1524.9h0M416.5 1522.2h0M491 1521.1h0M416.7 1529.1h0M548.7 1521.3h0M562.6 1528.2h0M494.3 1521.6h0M430.4 1530.5h0M500.7 1526.6h0M612.3 1525.4h0M683.8 1526.3h0M510.5 1528.2h0M638.5 1525.7h0M643.1 1527.1h0M528.4 1520.2h0M530.3 1517.6h0M528.3 1531.5h0M554.3 1522.2h0M514.5 1521.5h0M626.3 1527h0M560.1 1528.7h0M451.3 1527.9h0M536.3 1526.2h0M418.5 1527.9h0M504.7 1528h0M660.9 1527.2h0M552.3 1528.4h0M489.9 1524.2h0M441.9 1524.3h0M507.4 1519.6h0M516.7 1525.2h0M433.4 1516.5h0M439 1512.8h0M467 1518h0M455.4 1513.4h0M451.2 1518.9h0M460.4 1517.4h0M454.4 1508.3h0M476.6 1518.4h0M451.3 1507.1h0M472.4 1514.9h0M434.6 1520.3h0M436.9 1519h0M462.4 1520.2h0M464.4 1517.9h0M440.2 1518.9h0M462.8 1511.3h0M441.3 1515h0M437.4 1513.3h0M436 1516h0M454.9 1506.1h0M479.4 1519.4h0M449.3 1516.8h0M457.8 1520.3h0M468.7 1518.8h0M452.9 1516.3h0M461.9 1509.6h0M448.8 1511h0M441.2 1508.3h0M475.3 1516.6h0M443.3 1512.7h0M460.4 1515.2h0M477.1 1520.5h0M438.3 1517.5h0M506 1515.3h0M519.4 1513.7h0M538.3 1512.6h0M533.8 1509.6h0M536 1512.6h0M546.7 1516.9h0M497.4 1518.7h0M535.6 1515.7h0M517.1 1519.9h0M507.4 1517.1h0M514.3 1517.2h0M547.3 1519.8h0M526 1512h0M514.6 1513.7h0M553.5 1517.3h0M535.8 1521h0M543.1 1511.9h0M530.3 1509h0M512.9 1513.8h0M515.8 1512.6h0M554.6 1518.5h0M538 1514.4h0M509.9 1517.8h0M515.3 1515.6h0M537.5 1517.8h0M544.6 1509.6h0M530.5 1520.2h0M550.1 1519.7h0M511.5 1511.9h0M521 1519.3h0M536.4 1510.4h0M507.3 1514.4h0" stroke="#bababa" stroke-width="8.0" stroke-linecap="round" fill="none"/>
<path d="M260.8 1134.9h0M284.4 1134.9h0M379.1 1134.9h0M402.8 1513.1h0M406.9 1516.1h0M404.1 1517.5h0M402.1 1515.2h0M131.6 1508h0M377 1453.6h0M385.4 1468.7h0M389 1472.8h0M313.4 1483.4h0M330 1490.4h0M409.7 1489.4h0M405.5 1492.5h0M191.4 1519h0M202.3 1520.6h0M218.3 1517.5h0M225.9 1517.9h0M241.4 1520h0M257.8 1517.1h0M274.1 1515.9h0M276.2 1520h0M282.4 1520.6h0M328.6 1512.1h0M341.4 1512.1h0M354.8 1511.1h0M334.1 1517.5h0M353.8 1518.3h0M360 1519h0M372 1513.8h0M377.6 1517.9h0M385.4 1510.7h0M394.1 1512.8h0M403.4 1511.7h0M396.2 1516.9h0M406.6 1516.9h0M414.8 1511.3h0M383.8 1518.3h0" stroke="#66c2a5" stroke-width="8.0" stroke-linecap="round" fill="none"/>
<path d="M584.1 1327.5h0M562.8 1517.2h0M566.9 1518.6h0M572.4 1516.1h0M583.4 1517.5h0M590.3 1519.3h0M595.9 1514.8h0M600 1517.2h0M604.1 1513.1h0M606.9 1515.2h0M609.7 1517.5h0M623.4 1518.2h0M627.6 1518.9h0M562.9 1483.1h0M570.4 1501.4h0M589.5 1500h0M579.8 1505.1h0M561.7 1510.1h0M570.9 1515.7h0M578.6 1519.3h0M584.7 1518.1h0M596 1516.4h0M597.9 1519.8h0M604.7 1512.1h0M607.6 1514.5h0M613.6 1510.1h0M610 1516.9h0M622.1 1519.3h0M626.2 1518.8h0M637.3 1518.8h0M645 1507h0M649.3 1512.6h0M648.6 1518.1h0M656.6 1518.8h0M687 1513.3h0M707.8 1513.3h0M706.1 1518.1h0M735.5 1520.5h0M742.8 1519.3h0M757.2 1517.6h0M764 1516.4h0" stroke="#fc8d62" stroke-width="8.0" stroke-linecap="round" fill="none"/>
<path d="M99.7 1521.6H803.9" stroke="#000" stroke-width="1.7" stroke-dasharray="1.98 5.93 7.91 5.93" fill="none"/>
<path d="M99.7 1114.7H803.9" stroke="#d8d8d8" stroke-width="1.4" stroke-linecap="square" fill="none"/>
<path d="M99.7 1114.7V1551.1" stroke="#808080" stroke-width="1.4" stroke-linecap="square" fill="none"/>
<path d="M99.7 1551.1H803.9" stroke="#808080" stroke-width="1.4" stroke-linecap="square" fill="none"/>
<path d="M133.3 1551.1v3.5M310.6 1551.1v3.5M487.8 1551.1v3.5M665 1551.1v3.5M99.7 1531.9h-3.5M99.7 1452.8h-3.5M99.7 1373.7h-3.5M99.7 1294.6h-3.5M99.7 1215.5h-3.5M99.7 1136.4h-3.5" stroke="#444" stroke-width="1.2" fill="none"/>
<g class="tk" font-size="10.2" fill="#4d4d4d">
<text x="133.3" y="1565.3" text-anchor="middle">−5.0</text>
<text x="310.6" y="1565.3" text-anchor="middle">−2.5</text>
<text x="487.8" y="1565.3" text-anchor="middle">0.0</text>
<text x="665" y="1565.3" text-anchor="middle">2.5</text>
<text x="93.2" y="1535.4" text-anchor="end">0</text>
<text x="93.2" y="1456.3" text-anchor="end">10</text>
<text x="93.2" y="1377.2" text-anchor="end">20</text>
<text x="93.2" y="1298.1" text-anchor="end">30</text>
<text x="93.2" y="1219" text-anchor="end">40</text>
<text x="93.2" y="1139.9" text-anchor="end">50</text>
</g>
<text x="451.8" y="1579.6999999999998" font-size="12.6" text-anchor="middle" fill="#111">log2FoldChange</text>
<text transform="translate(77 1332.9) rotate(-90)" font-size="12.6" text-anchor="middle" fill="#111">−log10(Pvalue)</text>
<text x="822.8" y="1305" font-size="12.6" fill="#111">change</text>
<circle cx="833.5999999999999" cy="1322.7" r="4" fill="#66c2a5"/>
<text x="849.8" y="1326.1" font-size="10.2" fill="#111">DOWN</text>
<circle cx="833.5999999999999" cy="1342.7" r="4" fill="#bababa"/>
<text x="849.8" y="1346.1" font-size="10.2" fill="#111">NOT</text>
<circle cx="833.5999999999999" cy="1362.7" r="4" fill="#fc8d62"/>
<text x="849.8" y="1366.1" font-size="10.2" fill="#111">UP</text>
</g>
<g>
<text x="930" y="1101" font-size="47" fill="#000">F</text>
<text x="1015.7" y="1104.6" font-size="15.3" fill="#111">AG vs A down1 up1</text>
<rect x="1015.7" y="1114.4" width="700.7" height="436.39999999999986" fill="#fff"/>
<path d="M1139.8 1114.4V1550.8M1299.8 1114.4V1550.8M1459.7 1114.4V1550.8M1619.6 1114.4V1550.8M1015.7 1479.4H1716.4M1015.7 1373.7H1716.4M1015.7 1268H1716.4M1015.7 1162.2H1716.4" stroke="#f6f6f6" stroke-width="0.9" fill="none"/>
<path d="M1059.9 1114.4V1550.8M1219.8 1114.4V1550.8M1379.7 1114.4V1550.8M1539.6 1114.4V1550.8M1699.5 1114.4V1550.8M1015.7 1532.2H1716.4M1015.7 1426.5H1716.4M1015.7 1320.8H1716.4M1015.7 1215.1H1716.4" stroke="#efefef" stroke-width="1.3" fill="none"/>
<path d="M1299.8 1114.4V1550.8" stroke="#000" stroke-width="3" stroke-dasharray="1.98 5.93 7.91 5.93" fill="none"/>
<path d="M1459.7 1114.4V1550.8" stroke="#000" stroke-width="3" stroke-dasharray="1.98 5.93 7.91 5.93" fill="none"/>
<path d="M1268.8 1289h0M1324.7 1305.4h0M1195 1342.3h0M1134.9 1380.5h0M1046.9 1392.1h0M1060 1395.4h0M1091.9 1393.6h0M1093.6 1396h0M1075.5 1405h0M1076.6 1406.5h0M1092.8 1411.1h0M1061.1 1417.4h0M1152.6 1411.1h0M1253.1 1404.5h0M1112.9 1422.2h0M1092.1 1425.5h0M1090.6 1438.2h0M1113.7 1434.2h0M1115.3 1437.1h0M1168.8 1432.9h0M1169.4 1436h0M1210.9 1433.1h0M1225.1 1431.6h0M1111.6 1447.3h0M1115.9 1449.1h0M1226.9 1443.4h0M1218.1 1444.7h0M1218.1 1448.6h0M1237.3 1448.2h0M1262.2 1445.6h0M1266.6 1447.3h0M1190.8 1448.4h0M1189.5 1454.5h0M1190.8 1457.4h0M1138.4 1452.4h0M1139.9 1455.6h0M1137.8 1457.8h0M1141.7 1459.3h0M1225.8 1453.9h0M1224.7 1459.1h0M1261.8 1456.3h0M1243.7 1460h0M1243.7 1463.3h0M1172.3 1461.5h0M1171.6 1468.7h0M1174.9 1472h0M1286.9 1464.8h0M1283 1467.2h0M1274 1468.5h0M1216.4 1474.2h0M1262.5 1475.1h0M1192.8 1477.9h0M1244.8 1478.6h0M1247 1479.7h0M1215.3 1484.7h0M1218.6 1486.9h0M1221.4 1488h0M1248.7 1490.6h0M1249.8 1493.9h0M1251.3 1495.6h0M1322.5 1444.9h0M1328.2 1475.7h0M1301.1 1480.7h0M1348.7 1485.8h0M1320.3 1488h0M1319.7 1493.9h0M1338.7 1491h0M1305.9 1494.9h0M1298.3 1498.2h0M1283.6 1498.9h0M1269.4 1502.6h0M1366.6 1498.4h0M1338 1504.1h0M1285.4 1507.2h0M1332.8 1509.6h0M1295 1510.2h0M1300.5 1510.9h0M1305.9 1511.8h0M1312.5 1510.2h0M1315.7 1511.3h0M1314 1515.7h0M1324.5 1515.7h0M1333.2 1516.8h0M1361.6 1512.4h0M1368.2 1513.5h0M1363.8 1517.9h0M1348.5 1520.1h0M1346.3 1523.8h0M1352.9 1524.4h0M1359.4 1525.5h0M1366 1527.7h0M1373.6 1527.3h0M1379.1 1531h0M1385.6 1528.8h0M1388.9 1524.4h0M1383.4 1525.5h0M1629.1 1356.9h0M1492.6 1369.8h0M1395.2 1388.8h0M1615.6 1383.3h0M1666.7 1380.7h0M1542.8 1412h0M1593.1 1408.5h0M1596.6 1418.1h0M1589.4 1426.4h0M1649.9 1424.2h0M1681.5 1420.3h0M1684.8 1430.3h0M1673.2 1436.2h0M1644.4 1430.1h0M1639.4 1437.1h0M1645.9 1440.3h0M1653.1 1444.7h0M1631.5 1443.2h0M1636.3 1451.5h0M1626 1456.1h0M1411.1 1441.4h0M1479.9 1451.3h0M1463.6 1459.1h0M1480.6 1469.8h0M1518.2 1455.6h0M1511.6 1462.2h0M1508.3 1465h0M1558.1 1453.9h0M1554.4 1463.7h0M1567.7 1441.9h0M1578.7 1438.6h0M1594.6 1455.6h0M1592.4 1457.8h0M1617.5 1453.4h0M1615.3 1456.7h0M1609.9 1457.8h0M1616.4 1461.1h0M1602.2 1462.2h0M1597.9 1467.6h0M1590.2 1469.8h0M1585.9 1468.3h0M1581.5 1469.8h0M1576 1473.1h0M1570.6 1476.4h0M1536.7 1475.9h0M1530.2 1480.3h0M1559.7 1480.3h0M1554.2 1482.3h0M1547.6 1484h0M1541.1 1487.7h0M1528 1491.2h0M1522.5 1492.8h0M1516 1493.9h0M1510.5 1491.7h0M1511.6 1497.1h0M1505.1 1494.9h0M1500.7 1496h0M1497.4 1500.4h0M1485.4 1489h0M1479.9 1492.8h0M1467.9 1493.9h0M1465.7 1498.9h0M1482.1 1501.5h0M1478.9 1505.4h0M1473.4 1507h0M1466.8 1509.1h0M1462.5 1510.2h0M1457 1505.4h0M1450.5 1493.9h0M1447.6 1498.2h0M1438.9 1497.6h0M1424.3 1482.9h0M1429.7 1482.9h0M1411.1 1500.8h0M1404.6 1504.8h0M1406.8 1510.2h0M1407.2 1515.7h0M1419.9 1504.8h0M1422.1 1509.1h0M1425.3 1512.4h0M1450.5 1512.4h0M1443.9 1515.7h0M1437.4 1517.4h0M1430.8 1517.9h0M1424.3 1516.8h0M1422.1 1522.2h0M1415.5 1519h0M1409 1523.3h0M1401.3 1525.5h0M1395.9 1524.4h0M1393.7 1528.8h0M1371.8 1528.8h0M1374 1525.5h0M1360.9 1524.4h0M1354.4 1523.3h0M1366.4 1520.1h0" stroke="#bababa" stroke-width="7.3" stroke-linecap="round" fill="none"/>
<path d="M1079.9 1210.9h0" stroke="#66c2a5" stroke-width="7.3" stroke-linecap="round" fill="none"/>
<path d="M1648.4 1134.6h0" stroke="#fc8d62" stroke-width="7.3" stroke-linecap="round" fill="none"/>
<path d="M1015.7 1257.4H1716.4" stroke="#000" stroke-width="3" stroke-dasharray="1.98 5.93 7.91 5.93" fill="none"/>
<path d="M1015.7 1114.4H1716.4" stroke="#808080" stroke-width="1.4" stroke-linecap="square" fill="none"/>
<path d="M1716.4 1114.4V1550.8" stroke="#808080" stroke-width="1.4" stroke-linecap="square" fill="none"/>
<path d="M1015.7 1550.8H1716.4" stroke="#444" stroke-width="1.5" stroke-linecap="square" fill="none"/>
<path d="M1015.7 1114.4V1550.8" stroke="#b4b4b4" stroke-width="1.5" stroke-linecap="square" fill="none"/>
<path d="M1059.9 1550.8v3.5M1219.8 1550.8v3.5M1379.7 1550.8v3.5M1539.6 1550.8v3.5M1699.5 1550.8v3.5M1015.7 1532.2h-3.5M1015.7 1426.5h-3.5M1015.7 1320.8h-3.5M1015.7 1215.1h-3.5" stroke="#444" stroke-width="1.2" fill="none"/>
<g class="tk" font-size="10.2" fill="#4d4d4d">
<text x="1059.9" y="1565.0" text-anchor="middle">−4</text>
<text x="1219.8" y="1565.0" text-anchor="middle">−2</text>
<text x="1379.7" y="1565.0" text-anchor="middle">0</text>
<text x="1539.6" y="1565.0" text-anchor="middle">2</text>
<text x="1699.5" y="1565.0" text-anchor="middle">4</text>
<text x="1009.2" y="1535.7" text-anchor="end">0.0</text>
<text x="1009.2" y="1430" text-anchor="end">0.5</text>
<text x="1009.2" y="1324.3" text-anchor="end">1.0</text>
<text x="1009.2" y="1218.6" text-anchor="end">1.5</text>
</g>
<text x="1366.1" y="1579.3999999999999" font-size="12.6" text-anchor="middle" fill="#111">log2FoldChange</text>
<text transform="translate(988.4 1332.6) rotate(-90)" font-size="12.6" text-anchor="middle" fill="#111">−log10(Pvalue)</text>
<text x="1735" y="1305" font-size="12.6" fill="#111">change</text>
<circle cx="1745.8" cy="1322.7" r="4" fill="#66c2a5"/>
<text x="1762" y="1326.1" font-size="10.2" fill="#111">DOWN</text>
<circle cx="1745.8" cy="1342.7" r="4" fill="#bababa"/>
<text x="1762" y="1346.1" font-size="10.2" fill="#111">NOT</text>
<circle cx="1745.8" cy="1362.7" r="4" fill="#fc8d62"/>
<text x="1762" y="1366.1" font-size="10.2" fill="#111">UP</text>
</g>
<g>
<text x="3.8" y="1719.5" font-size="47.5">G</text>
<text x="864.3" y="1719.2" font-size="47">H</text>
<text x="1600.9" y="1718.6" font-size="47">I</text>
<path d="M581.9 1935.4L649.0 1770.4M581.9 1935.4L513.1 1791.6M581.9 1935.4L732.3 1826.0M581.9 1935.4L399.2 1834.4M581.9 1935.4L780.7 1897.3M581.9 1935.4L750.3 1990.1M581.9 1935.4L698.2 2070.6M581.9 1935.4L615.2 2117.6M581.9 1935.4L530.6 2224.9M374.4 1977.8L399.2 1834.4M374.4 1977.8L130.1 1893.4M374.4 1977.8L277.6 1911.9M374.4 1977.8L217.3 1990.1M374.4 1977.8L207.8 2065.7M374.4 1977.8L208.6 2132.3M374.4 1977.8L237.4 2181.7M374.4 1977.8L343.5 2253.4M374.4 1977.8L441.8 2227.6M374.4 1977.8L530.6 2224.9M374.4 1977.8L615.2 2117.6M466.6 1990.2L208.6 2132.3M466.6 1990.2L237.4 2181.7M466.6 1990.2L429.4 2113.4M466.6 1990.2L441.8 2227.6M466.6 1990.2L530.6 2224.9M429.4 2113.4L77.5 2007.1M429.4 2113.4L217.3 1990.1M429.4 2113.4L207.8 2065.7M429.4 2113.4L89.4 2115.7M429.4 2113.4L208.6 2132.3M429.4 2113.4L237.4 2181.7M429.4 2113.4L102.6 2200.5M429.4 2113.4L177.7 2262.6M429.4 2113.4L244.5 2304.4M429.4 2113.4L343.5 2253.4M429.4 2113.4L530.6 2224.9" stroke="#7c7c7c" stroke-width="1.8" fill="none"/>
<path d="M609.0 1770.4L649.0 1750.4L689.0 1770.4L649.0 1790.4Z" fill="#41ab5d"/>
<path d="M473.1 1791.6L513.1 1771.6L553.1 1791.6L513.1 1811.6Z" fill="#41ab5d"/>
<path d="M692.3 1826.0L732.3 1806.0L772.3 1826.0L732.3 1846.0Z" fill="#41ab5d"/>
<path d="M359.2 1834.4L399.2 1814.4L439.2 1834.4L399.2 1854.4Z" fill="#41ab5d"/>
<path d="M740.7 1897.3L780.7 1877.3L820.7 1897.3L780.7 1917.3Z" fill="#41ab5d"/>
<path d="M90.1 1893.4L130.1 1873.4L170.1 1893.4L130.1 1913.4Z" fill="#41ab5d"/>
<path d="M710.3 1990.1L750.3 1970.1L790.3 1990.1L750.3 2010.1Z" fill="#41ab5d"/>
<path d="M37.5 2007.1L77.5 1987.1L117.5 2007.1L77.5 2027.1Z" fill="#41ab5d"/>
<path d="M658.2 2070.6L698.2 2050.6L738.2 2070.6L698.2 2090.6Z" fill="#41ab5d"/>
<path d="M49.4 2115.7L89.4 2095.7L129.4 2115.7L89.4 2135.7Z" fill="#41ab5d"/>
<path d="M575.2 2117.6L615.2 2097.6L655.2 2117.6L615.2 2137.6Z" fill="#41ab5d"/>
<path d="M62.6 2200.5L102.6 2180.5L142.6 2200.5L102.6 2220.5Z" fill="#41ab5d"/>
<path d="M137.7 2262.6L177.7 2242.6L217.7 2262.6L177.7 2282.6Z" fill="#41ab5d"/>
<path d="M204.5 2304.4L244.5 2284.4L284.5 2304.4L244.5 2324.4Z" fill="#41ab5d"/>
<ellipse cx="277.6" cy="1911.9" rx="43.0" ry="20.0" fill="#74a9cf"/>
<ellipse cx="217.3" cy="1990.1" rx="43.0" ry="20.0" fill="#74a9cf"/>
<ellipse cx="207.8" cy="2065.7" rx="43.0" ry="20.0" fill="#74a9cf"/>
<ellipse cx="208.6" cy="2132.3" rx="43.0" ry="20.0" fill="#74a9cf"/>
<ellipse cx="237.4" cy="2181.7" rx="43.0" ry="20.0" fill="#74a9cf"/>
<ellipse cx="343.5" cy="2253.4" rx="43.0" ry="20.0" fill="#74a9cf"/>
<ellipse cx="441.8" cy="2227.6" rx="43.0" ry="20.0" fill="#74a9cf"/>
<ellipse cx="530.6" cy="2224.9" rx="43.0" ry="20.0" fill="#74a9cf"/>
<path d="M539.4 1935.4L559.4 1918.2L604.4 1918.2L624.4 1935.4L604.4 1952.7L559.4 1952.7Z" fill="#ce1256"/>
<path d="M331.9 1977.8L351.9 1960.5L396.9 1960.5L416.9 1977.8L396.9 1995.0L351.9 1995.0Z" fill="#ce1256"/>
<path d="M424.1 1990.2L444.1 1973.0L489.1 1973.0L509.1 1990.2L489.1 2007.5L444.1 2007.5Z" fill="#ce1256"/>
<path d="M386.9 2113.4L406.9 2096.2L451.9 2096.2L471.9 2113.4L451.9 2130.7L406.9 2130.7Z" fill="#ce1256"/>
<g font-size="13.4" text-anchor="middle" fill="#000">
<text x="649.0" y="1774.9">hsa-miR-101-3p</text>
<text x="513.1" y="1796.1">hsa-miR-146b-5p</text>
<text x="732.3" y="1830.5">hsa-miR-107</text>
<text x="399.2" y="1838.9">hsa-miR-96-5p</text>
<text x="780.7" y="1901.8">hsa-miR-196a-5p</text>
<text x="130.1" y="1897.9">hsa-miR-23b-3p</text>
<text x="750.3" y="1994.6">hsa-miR-30b-5p</text>
<text x="77.5" y="2011.6">hsa-miR-26a-5p</text>
<text x="698.2" y="2075.1">hsa-miR-193b-3p</text>
<text x="89.4" y="2120.2">hsa-miR-137</text>
<text x="615.2" y="2122.1">hsa-miR-31-5p</text>
<text x="102.6" y="2205.0">hsa-miR-365a-3p</text>
<text x="177.7" y="2267.1">hsa-miR-25-3p</text>
<text x="244.5" y="2308.9">hsa-miR-181a-5p</text>
<text x="277.6" y="1916.4">ETS1</text>
<text x="217.3" y="1994.6">TRIM22</text>
<text x="207.8" y="2070.2">SP3</text>
<text x="208.6" y="2136.8">ZNF2</text>
<text x="237.4" y="2186.2">SMAD4</text>
<text x="343.5" y="2257.9">EED</text>
<text x="441.8" y="2232.1">STAT3</text>
<text x="530.6" y="2229.4">UBTF</text>
<text x="581.9" y="1939.9">KIF1A</text>
<text x="374.4" y="1982.3">ENO2</text>
<text x="466.6" y="1994.7">PGR</text>
<text x="429.4" y="2117.9">ADM</text>
</g>
<path d="M1203.7 1700.0L1407.0 2083.8M1043.6 1743.0L1388.7 1907.1M1365.1 1743.0L1361.8 2164.5M1365.1 1743.0L1288.5 2215.4M925.6 1860.9L982.2 1993.3M1482.8 1860.9L1361.8 2164.5M882.4 2021.4L982.2 1993.3M882.4 2021.4L991.6 2083.9M882.4 2021.4L1037.4 2162.3M925.4 2182.3L1037.4 2162.3M1043.6 2300.0L1037.4 2162.3M1043.6 2300.0L991.6 2083.9M1365.1 2298.9L991.6 2083.9M1482.9 2182.3L1327.8 1839.8M1203.6 2342.5L1244.8 1803.0M1526.0 2021.5L1154.1 1803.7M1526.0 2021.5L1244.8 1803.0M1526.0 2021.5L1071.4 1839.8M1526.0 2021.5L1327.8 1839.8M1526.0 2021.5L1388.7 1907.1M1526.0 2021.5L1406.4 1994.5M1526.0 2021.5L982.2 1993.3M1526.0 2021.5L991.6 2083.9M1526.0 2021.5L1407.0 2083.8M1526.0 2021.5L1037.4 2162.3M1526.0 2021.5L1361.8 2164.5M1526.0 2021.5L1288.5 2215.4M1526.0 2021.5L1199.4 2234.5M1526.0 2021.5L1110.5 2215.6M1252.3 1956.6L1010.7 1907.1M1252.3 1956.6L1071.4 1839.8M1252.3 1956.6L1154.1 1803.7M1252.3 1956.6L1244.8 1803.0M1252.3 1956.6L1327.8 1839.8M1252.3 1956.6L1406.4 1994.5M1252.3 1956.6L1407.0 2083.8M1252.3 1956.6L1361.8 2164.5M1252.3 1956.6L1110.5 2215.6M1252.3 1956.6L1526.0 2021.5M1147.1 1960.6L1244.8 1803.0M1147.1 1960.6L1388.7 1907.1M1147.1 1960.6L982.2 1993.3M1147.1 1960.6L1037.4 2162.3M1147.1 1960.6L1199.4 2234.5M1130.1 2026.8L982.2 1993.3M1130.1 2026.8L991.6 2083.9M1130.1 2026.8L1288.5 2215.4M1282.5 2032.8L1388.7 1907.1M1208.8 2086.9L1154.1 1803.7M1208.8 2086.9L1010.7 1907.1M1208.8 2086.9L1407.0 2083.8" stroke="#7c7c7c" stroke-width="1.5" fill="none"/>
<ellipse cx="1203.7" cy="1700.0" rx="35.0" ry="16.5" fill="#74a9cf"/>
<ellipse cx="1043.6" cy="1743.0" rx="35.0" ry="16.5" fill="#74a9cf"/>
<ellipse cx="1365.1" cy="1743.0" rx="35.0" ry="16.5" fill="#74a9cf"/>
<ellipse cx="925.6" cy="1860.9" rx="35.0" ry="16.5" fill="#74a9cf"/>
<ellipse cx="1482.8" cy="1860.9" rx="35.0" ry="16.5" fill="#74a9cf"/>
<ellipse cx="882.4" cy="2021.4" rx="35.0" ry="16.5" fill="#74a9cf"/>
<ellipse cx="1526.0" cy="2021.5" rx="35.0" ry="16.5" fill="#74a9cf"/>
<ellipse cx="925.4" cy="2182.3" rx="35.0" ry="16.5" fill="#74a9cf"/>
<ellipse cx="1482.9" cy="2182.3" rx="35.0" ry="16.5" fill="#74a9cf"/>
<ellipse cx="1043.6" cy="2300.0" rx="35.0" ry="16.5" fill="#74a9cf"/>
<ellipse cx="1365.1" cy="2298.9" rx="35.0" ry="16.5" fill="#74a9cf"/>
<ellipse cx="1203.6" cy="2342.5" rx="35.0" ry="16.5" fill="#74a9cf"/>
<path d="M1120.1 1803.7L1154.1 1787.4L1188.1 1803.7L1154.1 1820.0Z" fill="#41ab5d"/>
<path d="M1210.8 1803.0L1244.8 1786.7L1278.8 1803.0L1244.8 1819.3Z" fill="#41ab5d"/>
<path d="M1037.4 1839.8L1071.4 1823.5L1105.4 1839.8L1071.4 1856.1Z" fill="#41ab5d"/>
<path d="M1293.8 1839.8L1327.8 1823.5L1361.8 1839.8L1327.8 1856.1Z" fill="#41ab5d"/>
<path d="M976.7 1907.1L1010.7 1890.8L1044.7 1907.1L1010.7 1923.4Z" fill="#41ab5d"/>
<path d="M1354.7 1907.1L1388.7 1890.8L1422.7 1907.1L1388.7 1923.4Z" fill="#41ab5d"/>
<path d="M948.2 1993.3L982.2 1977.0L1016.2 1993.3L982.2 2009.6Z" fill="#41ab5d"/>
<path d="M1372.4 1994.5L1406.4 1978.2L1440.4 1994.5L1406.4 2010.8Z" fill="#41ab5d"/>
<path d="M957.6 2083.9L991.6 2067.6L1025.6 2083.9L991.6 2100.2Z" fill="#41ab5d"/>
<path d="M1373.0 2083.8L1407.0 2067.5L1441.0 2083.8L1407.0 2100.1Z" fill="#41ab5d"/>
<path d="M1003.4 2162.3L1037.4 2146.0L1071.4 2162.3L1037.4 2178.6Z" fill="#41ab5d"/>
<path d="M1327.8 2164.5L1361.8 2148.2L1395.8 2164.5L1361.8 2180.8Z" fill="#41ab5d"/>
<path d="M1076.5 2215.6L1110.5 2199.3L1144.5 2215.6L1110.5 2231.9Z" fill="#41ab5d"/>
<path d="M1254.5 2215.4L1288.5 2199.1L1322.5 2215.4L1288.5 2231.7Z" fill="#41ab5d"/>
<path d="M1165.4 2234.5L1199.4 2218.2L1233.4 2234.5L1199.4 2250.8Z" fill="#41ab5d"/>
<path d="M1112.6 1960.6L1129.1 1946.6L1165.1 1946.6L1181.6 1960.6L1165.1 1974.6L1129.1 1974.6Z" fill="#ce1256"/>
<path d="M1217.8 1956.6L1234.3 1942.6L1270.3 1942.6L1286.8 1956.6L1270.3 1970.6L1234.3 1970.6Z" fill="#ce1256"/>
<path d="M1095.6 2026.8L1112.1 2012.8L1148.1 2012.8L1164.6 2026.8L1148.1 2040.8L1112.1 2040.8Z" fill="#ce1256"/>
<path d="M1248.0 2032.8L1264.5 2018.8L1300.5 2018.8L1317.0 2032.8L1300.5 2046.8L1264.5 2046.8Z" fill="#ce1256"/>
<path d="M1174.3 2086.9L1190.8 2072.9L1226.8 2072.9L1243.3 2086.9L1226.8 2100.9L1190.8 2100.9Z" fill="#ce1256"/>
<g font-size="11" text-anchor="middle" fill="#000">
<text x="1203.7" y="1703.7">TP53TG1</text>
<text x="1043.6" y="1746.7">LINC01091</text>
<text x="1365.1" y="1746.7">LINC00960</text>
<text x="925.6" y="1864.6">LINC00937</text>
<text x="1482.8" y="1864.6">TEX41</text>
<text x="882.4" y="2025.1">CASC19</text>
<text x="1526.0" y="2025.2">NEAT1</text>
<text x="925.4" y="2186.0">PCAT1</text>
<text x="1482.9" y="2186.0">LINC01139</text>
<text x="1043.6" y="2303.7">MIR4458HG</text>
<text x="1365.1" y="2302.6">LUCAT1</text>
<text x="1203.6" y="2346.2">RP11-417J8.6</text>
<text x="1154.1" y="1807.4">hsa-miR-31-5p</text>
<text x="1244.8" y="1806.7">hsa-miR-101-3p</text>
<text x="1071.4" y="1843.5">hsa-miR-196a-5p</text>
<text x="1327.8" y="1843.5">hsa-miR-338-5p</text>
<text x="1010.7" y="1910.8">hsa-miR-23b-3p</text>
<text x="1388.7" y="1910.8">hsa-miR-133a-3p</text>
<text x="982.2" y="1997.0">hsa-miR-26a-5p</text>
<text x="1406.4" y="1998.2">hsa-miR-146b-5p</text>
<text x="991.6" y="2087.6">hsa-miR-181a-5p</text>
<text x="1407.0" y="2087.5">hsa-miR-96-5p</text>
<text x="1037.4" y="2166.0">hsa-miR-27b-3p</text>
<text x="1361.8" y="2168.2">hsa-miR-107</text>
<text x="1110.5" y="2219.3">hsa-miR-193b-3p</text>
<text x="1288.5" y="2219.1">hsa-miR-365a-3p</text>
<text x="1199.4" y="2238.2">hsa-miR-194-5p</text>
<text x="1147.1" y="1964.3">SNCA</text>
<text x="1252.3" y="1960.3">KIF1A</text>
<text x="1130.1" y="2030.5">ADM</text>
<text x="1282.5" y="2036.5">SNAP91</text>
<text x="1208.8" y="2090.6">ENO2</text>
</g>
<path d="M1695.6 1952.2L1776.2 2058.2M1908.6 2068.2L1776.2 2058.2M1752.8 2188.2L1776.2 2058.2" stroke="#7c7c7c" stroke-width="1.8" fill="none"/>
<path d="M1650.4 1952.2L1672.9 1933.7L1718.3 1933.7L1740.8 1952.2L1718.3 1970.7L1672.9 1970.7Z" fill="#ce1256"/>
<path d="M1732.0 2058.2L1776.2 2037.0L1820.4 2058.2L1776.2 2079.3Z" fill="#41ab5d"/>
<path d="M1863.4 2068.2L1885.9 2049.7L1931.3 2049.7L1953.8 2068.2L1931.3 2086.7L1885.9 2086.7Z" fill="#ce1256"/>
<ellipse cx="1752.8" cy="2188.2" rx="44.7" ry="21.6" fill="#74a9cf"/>
<g font-size="14.1" text-anchor="middle" fill="#000">
<text x="1695.6" y="1956.9">ADM</text>
<text x="1776.2" y="2062.9">hsa-miR-137</text>
<text x="1908.6" y="2072.9">SNAP91</text>
<text x="1752.8" y="2192.9">hsa_circ_0001460</text>
</g>
</g>
</svg>
</body></html>
